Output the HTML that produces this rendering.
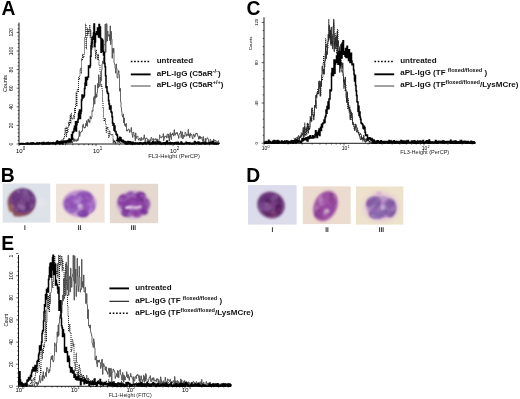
<!DOCTYPE html>
<html><head><meta charset="utf-8"><style>
html,body{margin:0;padding:0;background:#fff;}
svg{display:block;filter:blur(0.3px);}
text{font-family:"Liberation Sans",sans-serif;}
.lt{font-weight:bold;font-size:19.3px;}
.lg{font-weight:bold;font-size:8px;}
.tk{font-size:5.5px;}
.sp{font-size:5.6px;}
</style></head><body>
<svg width="520" height="399" viewBox="0 0 520 399">
<rect width="520" height="399" fill="#fff"/>
<text class="lt" x="1.6" y="15.0">A</text>
<text class="lt" x="246.5" y="15.0">C</text>
<text class="lt" x="0.8" y="181.7">B</text>
<text class="lt" x="246.3" y="181.5">D</text>
<text class="lt" x="1.2" y="249.5">E</text>
<line x1="19" y1="22.7" x2="19" y2="144" stroke="#000" stroke-width="0.9"/>
<line x1="19" y1="144" x2="219" y2="144" stroke="#000" stroke-width="0.9"/>
<line x1="16.6" y1="144.0" x2="19" y2="144.0" stroke="#000" stroke-width="0.6"/>
<line x1="17.7" y1="140.3" x2="19" y2="140.3" stroke="#000" stroke-width="0.6"/>
<line x1="17.7" y1="136.6" x2="19" y2="136.6" stroke="#000" stroke-width="0.6"/>
<line x1="17.7" y1="132.8" x2="19" y2="132.8" stroke="#000" stroke-width="0.6"/>
<line x1="17.7" y1="129.1" x2="19" y2="129.1" stroke="#000" stroke-width="0.6"/>
<line x1="16.6" y1="125.4" x2="19" y2="125.4" stroke="#000" stroke-width="0.6"/>
<line x1="17.7" y1="121.7" x2="19" y2="121.7" stroke="#000" stroke-width="0.6"/>
<line x1="17.7" y1="118.0" x2="19" y2="118.0" stroke="#000" stroke-width="0.6"/>
<line x1="17.7" y1="114.2" x2="19" y2="114.2" stroke="#000" stroke-width="0.6"/>
<line x1="17.7" y1="110.5" x2="19" y2="110.5" stroke="#000" stroke-width="0.6"/>
<line x1="16.6" y1="106.8" x2="19" y2="106.8" stroke="#000" stroke-width="0.6"/>
<line x1="17.7" y1="103.1" x2="19" y2="103.1" stroke="#000" stroke-width="0.6"/>
<line x1="17.7" y1="99.4" x2="19" y2="99.4" stroke="#000" stroke-width="0.6"/>
<line x1="17.7" y1="95.6" x2="19" y2="95.6" stroke="#000" stroke-width="0.6"/>
<line x1="17.7" y1="91.9" x2="19" y2="91.9" stroke="#000" stroke-width="0.6"/>
<line x1="16.6" y1="88.2" x2="19" y2="88.2" stroke="#000" stroke-width="0.6"/>
<line x1="17.7" y1="84.5" x2="19" y2="84.5" stroke="#000" stroke-width="0.6"/>
<line x1="17.7" y1="80.8" x2="19" y2="80.8" stroke="#000" stroke-width="0.6"/>
<line x1="17.7" y1="77.0" x2="19" y2="77.0" stroke="#000" stroke-width="0.6"/>
<line x1="17.7" y1="73.3" x2="19" y2="73.3" stroke="#000" stroke-width="0.6"/>
<line x1="16.6" y1="69.6" x2="19" y2="69.6" stroke="#000" stroke-width="0.6"/>
<line x1="17.7" y1="65.9" x2="19" y2="65.9" stroke="#000" stroke-width="0.6"/>
<line x1="17.7" y1="62.2" x2="19" y2="62.2" stroke="#000" stroke-width="0.6"/>
<line x1="17.7" y1="58.4" x2="19" y2="58.4" stroke="#000" stroke-width="0.6"/>
<line x1="17.7" y1="54.7" x2="19" y2="54.7" stroke="#000" stroke-width="0.6"/>
<line x1="16.6" y1="51.0" x2="19" y2="51.0" stroke="#000" stroke-width="0.6"/>
<line x1="17.7" y1="47.3" x2="19" y2="47.3" stroke="#000" stroke-width="0.6"/>
<line x1="17.7" y1="43.6" x2="19" y2="43.6" stroke="#000" stroke-width="0.6"/>
<line x1="17.7" y1="39.8" x2="19" y2="39.8" stroke="#000" stroke-width="0.6"/>
<line x1="17.7" y1="36.1" x2="19" y2="36.1" stroke="#000" stroke-width="0.6"/>
<line x1="16.6" y1="32.4" x2="19" y2="32.4" stroke="#000" stroke-width="0.6"/>
<line x1="17.7" y1="28.7" x2="19" y2="28.7" stroke="#000" stroke-width="0.6"/>
<line x1="17.7" y1="25.0" x2="19" y2="25.0" stroke="#000" stroke-width="0.6"/>
<line x1="19.0" y1="144" x2="19.0" y2="146.2" stroke="#000" stroke-width="0.6"/>
<line x1="42.2" y1="144" x2="42.2" y2="145.3" stroke="#000" stroke-width="0.6"/>
<line x1="55.7" y1="144" x2="55.7" y2="145.3" stroke="#000" stroke-width="0.6"/>
<line x1="65.4" y1="144" x2="65.4" y2="145.3" stroke="#000" stroke-width="0.6"/>
<line x1="72.8" y1="144" x2="72.8" y2="145.3" stroke="#000" stroke-width="0.6"/>
<line x1="78.9" y1="144" x2="78.9" y2="145.3" stroke="#000" stroke-width="0.6"/>
<line x1="84.1" y1="144" x2="84.1" y2="145.3" stroke="#000" stroke-width="0.6"/>
<line x1="88.5" y1="144" x2="88.5" y2="145.3" stroke="#000" stroke-width="0.6"/>
<line x1="92.5" y1="144" x2="92.5" y2="145.3" stroke="#000" stroke-width="0.6"/>
<line x1="96.0" y1="144" x2="96.0" y2="146.2" stroke="#000" stroke-width="0.6"/>
<line x1="119.2" y1="144" x2="119.2" y2="145.3" stroke="#000" stroke-width="0.6"/>
<line x1="132.7" y1="144" x2="132.7" y2="145.3" stroke="#000" stroke-width="0.6"/>
<line x1="142.4" y1="144" x2="142.4" y2="145.3" stroke="#000" stroke-width="0.6"/>
<line x1="149.8" y1="144" x2="149.8" y2="145.3" stroke="#000" stroke-width="0.6"/>
<line x1="155.9" y1="144" x2="155.9" y2="145.3" stroke="#000" stroke-width="0.6"/>
<line x1="161.1" y1="144" x2="161.1" y2="145.3" stroke="#000" stroke-width="0.6"/>
<line x1="165.5" y1="144" x2="165.5" y2="145.3" stroke="#000" stroke-width="0.6"/>
<line x1="169.5" y1="144" x2="169.5" y2="145.3" stroke="#000" stroke-width="0.6"/>
<line x1="173.0" y1="144" x2="173.0" y2="146.2" stroke="#000" stroke-width="0.6"/>
<line x1="196.2" y1="144" x2="196.2" y2="145.3" stroke="#000" stroke-width="0.6"/>
<line x1="209.7" y1="144" x2="209.7" y2="145.3" stroke="#000" stroke-width="0.6"/>
<path d="M19.0,144.0H19.5V143.4H20.0V144.0H20.5V144.0H21.0V144.0H21.5V143.6H22.0V143.6H22.5V144.0H23.0V144.0H23.5V144.0H24.0V144.0H24.5V144.0H25.0V144.0H25.5V143.8H26.0V144.0H26.5V144.0H27.0V144.0H27.5V143.2H28.0V143.7H28.5V144.0H29.0V143.1H29.5V144.0H30.0V144.0H30.5V143.9H31.0V144.0H31.5V144.0H32.0V142.5H32.5V144.0H33.0V142.6H33.5V144.0H34.0V143.9H34.5V144.0H35.0V143.8H35.5V143.5H36.0V142.6H36.5V143.0H37.0V144.0H37.5V142.5H38.0V143.9H38.5V143.9H39.0V142.1H39.5V144.0H40.0V143.8H40.5V143.4H41.0V143.4H41.5V142.8H42.0V142.0H42.5V143.1H43.0V142.9H43.5V144.0H44.0V144.0H44.5V144.0H45.0V142.5H45.5V143.8H46.0V143.4H46.5V142.6H47.0V143.5H47.5V143.4H48.0V142.0H48.5V143.1H49.0V144.0H49.5V144.0H50.0V143.7H50.5V144.0H51.0V144.0H51.5V144.0H52.0V143.9H52.5V143.6H53.0V144.0H53.5V142.1H54.0V143.0H54.5V143.3H55.0V143.3H55.5V142.1H56.0V142.3H56.5V141.4H57.0V142.9H57.5V141.3H58.0V141.7H58.5V142.6H59.0V140.8H59.5V142.7H60.0V142.5H60.5V141.6H61.0V140.8H61.5V140.1H62.0V140.5H62.5V141.2H63.0V138.1H63.5V138.8H64.0V137.9H64.5V133.6H65.0V127.8H65.5V132.1H66.0V136.9H66.5V127.1H67.0V128.7H67.5V132.8H68.0V126.7H68.5V122.1H69.0V125.9H69.5V120.7H70.0V115.1H70.5V123.5H71.0V113.3H71.5V117.4H72.0V118.9H72.5V119.3H73.0V116.9H73.5V115.4H74.0V118.6H74.5V107.9H75.0V113.3H75.5V104.4H76.0V92.5H76.5V106.3H77.0V89.8H77.5V89.1H78.0V92.2H78.5V77.5H79.0V79.6H79.5V76.5H80.0V69.2H80.5V68.2H81.0V73.4H81.5V58.7H82.0V60.4H82.5V54.1H83.0V57.3H83.5V57.9H84.0V54.0H84.5V37.7H85.0V37.1H85.5V24.0H86.0V49.0H86.5V37.8H87.0V28.0H87.5V35.4H88.0V29.7H88.5V33.2H89.0V30.5H89.5V25.0H90.0V37.6H90.5V29.8H91.0V44.8H91.5V49.6H92.0V38.9H92.5V47.8H93.0V37.0H93.5V34.8H94.0V25.9H94.5V47.4H95.0V51.6H95.5V58.8H96.0V49.8H96.5V54.1H97.0V55.3H97.5V59.6H98.0V54.1H98.5V60.3H99.0V65.3H99.5V65.2H100.0V71.9H100.5V83.0H101.0V86.5H101.5V84.9H102.0V90.3H102.5V101.8H103.0V108.5H103.5V117.1H104.0V121.2H104.5V118.8H105.0V118.3H105.5V123.2H106.0V132.5H106.5V127.5H107.0V128.6H107.5V127.1H108.0V133.5H108.5V137.7H109.0V136.7H109.5V130.8H110.0V133.9H110.5V134.5H111.0V135.0H111.5V135.3H112.0V134.3H112.5V134.7H113.0V143.1H113.5V139.6H114.0V143.0H114.5V140.5H115.0V141.4H115.5V144.0H116.0V141.3H116.5V139.6H117.0V141.4H117.5V143.0H118.0V141.8H118.5V140.8H119.0V142.7H119.5V140.3H120.0V142.7H120.5V143.2H121.0V143.0H121.5V141.8H122.0V141.8H122.5V142.8H123.0V142.6H123.5V141.6H124.0V143.5H124.5V143.2H125.0V141.5H125.5V141.8H126.0V142.3H126.5V143.6H127.0V143.7H127.5V141.9H128.0V143.5H128.5V141.8H129.0V143.9H129.5V143.6H130.0V143.8H130.5V144.0H131.0V144.0H131.5V144.0H132.0V143.8H132.5V143.9H133.0V144.0H133.5V142.3H134.0V144.0H134.5V144.0H135.0V142.3H135.5V142.9H136.0V143.6H136.5V144.0H137.0V143.3H137.5V143.7H138.0V143.4H138.5V144.0H139.0V144.0H139.5V143.9H140.0V143.0H140.5V143.1H141.0V143.3H141.5V144.0H142.0V144.0H142.5V142.8H143.0V143.9H143.5V143.8H144.0V144.0H144.5V143.7H145.0V143.5H145.5V143.7H146.0V142.7H146.5V143.8H147.0V144.0H147.5V144.0H148.0V142.9H148.5V144.0H149.0V142.1H149.5V143.5H150.0V144.0H150.5V143.7H151.0V142.6H151.5V143.3H152.0V144.0H152.5V144.0H153.0V143.2H153.5V144.0H154.0V143.5H154.5V143.2H155.0V144.0H155.5V142.0H156.0V142.8H156.5V144.0H157.0V143.6H157.5V144.0H158.0V143.0H158.5V144.0H159.0V143.4H159.5V143.4H160.0V143.0H160.5V142.7H161.0V144.0H161.5V143.0H162.0V143.5H162.5V144.0H163.0V143.7H163.5V144.0H164.0V144.0H164.5V143.9H165.0V143.5H165.5V144.0H166.0V143.5H166.5V143.1H167.0V143.2H167.5V143.5H168.0V143.4H168.5V143.5H169.0V143.7H169.5V143.8H170.0V141.5H170.5V143.2H171.0V144.0H171.5V143.5H172.0V143.4H172.5V143.4H173.0V143.4H173.5V144.0H174.0V143.6H174.5V142.9H175.0V143.8H175.5V143.3H176.0V143.7H176.5V143.6H177.0V143.5H177.5V143.4H178.0V143.2H178.5V143.9H179.0V143.0H179.5V144.0H180.0V144.0H180.5V142.6H181.0V144.0H181.5V142.1H182.0V144.0H182.5V142.5H183.0V143.7H183.5V144.0H184.0V142.9H184.5V144.0H185.0V143.5H185.5V144.0H186.0V143.8H186.5V144.0H187.0V144.0H187.5V143.6H188.0V144.0H188.5V143.3H189.0V143.5H189.5V142.1H190.0V143.0H190.5V144.0H191.0V144.0H191.5V143.0H192.0V143.3H192.5V143.7H193.0V142.6H193.5V143.1H194.0V143.0H194.5V142.7H195.0V143.4H195.5V141.6H196.0V144.0H196.5V143.0H197.0V144.0H197.5V143.8H198.0V143.5H198.5V144.0H199.0V143.1H199.5V142.0H200.0V143.4H200.5V142.2H201.0V143.5H201.5V144.0H202.0V144.0H202.5V143.5H203.0V143.4H203.5V144.0H204.0V143.7H204.5V144.0H205.0V142.8H205.5V143.2H206.0V144.0H206.5V144.0H207.0V143.0H207.5V143.7H208.0V143.6H208.5V143.2H209.0V142.0H209.5V144.0H210.0V144.0H210.5V143.9H211.0V142.8H211.5V144.0H212.0V141.9H212.5V143.7H213.0V143.5H213.5V143.4H214.0V144.0H214.5V143.8H215.0V143.8H215.5V142.9H216.0V143.7H216.5V144.0H217.0V144.0H217.5V143.5H218.0V144.0H218.5V144.0H219.0V144.0" fill="none" stroke="#000" stroke-width="0.9" stroke-dasharray="1,1"/>
<path d="M19.0,144.0H19.5V144.0H20.0V144.0H20.5V144.0H21.0V143.3H21.5V144.0H22.0V144.0H22.5V143.9H23.0V143.6H23.5V143.9H24.0V143.9H24.5V144.0H25.0V144.0H25.5V144.0H26.0V143.8H26.5V143.5H27.0V144.0H27.5V142.4H28.0V143.5H28.5V142.5H29.0V143.5H29.5V144.0H30.0V143.7H30.5V143.7H31.0V142.9H31.5V143.9H32.0V143.6H32.5V144.0H33.0V143.9H33.5V144.0H34.0V143.9H34.5V144.0H35.0V144.0H35.5V143.2H36.0V143.1H36.5V142.3H37.0V142.3H37.5V144.0H38.0V144.0H38.5V144.0H39.0V143.4H39.5V144.0H40.0V143.2H40.5V143.4H41.0V144.0H41.5V142.4H42.0V144.0H42.5V143.4H43.0V144.0H43.5V144.0H44.0V142.8H44.5V143.8H45.0V144.0H45.5V144.0H46.0V142.2H46.5V143.2H47.0V143.5H47.5V144.0H48.0V144.0H48.5V144.0H49.0V142.8H49.5V142.5H50.0V142.2H50.5V143.7H51.0V144.0H51.5V143.5H52.0V144.0H52.5V143.3H53.0V142.4H53.5V143.8H54.0V142.9H54.5V143.1H55.0V144.0H55.5V142.2H56.0V144.0H56.5V144.0H57.0V143.6H57.5V142.3H58.0V143.9H58.5V141.1H59.0V142.1H59.5V143.2H60.0V144.0H60.5V142.8H61.0V144.0H61.5V142.0H62.0V144.0H62.5V141.5H63.0V140.6H63.5V143.5H64.0V142.1H64.5V141.3H65.0V143.6H65.5V144.0H66.0V142.6H66.5V144.0H67.0V144.0H67.5V144.0H68.0V141.9H68.5V142.4H69.0V142.1H69.5V140.5H70.0V143.2H70.5V142.1H71.0V142.5H71.5V141.3H72.0V143.2H72.5V141.5H73.0V141.3H73.5V138.1H74.0V141.3H74.5V139.2H75.0V140.8H75.5V139.9H76.0V141.4H76.5V140.2H77.0V138.8H77.5V140.9H78.0V139.7H78.5V136.8H79.0V130.8H79.5V136.4H80.0V133.3H80.5V132.1H81.0V132.1H81.5V131.0H82.0V131.1H82.5V125.9H83.0V124.2H83.5V127.1H84.0V128.1H84.5V127.1H85.0V127.7H85.5V123.6H86.0V125.4H86.5V120.7H87.0V126.3H87.5V122.5H88.0V119.1H88.5V121.7H89.0V120.6H89.5V122.6H90.0V116.3H90.5V118.4H91.0V118.9H91.5V117.3H92.0V110.4H92.5V111.4H93.0V106.8H93.5V97.6H94.0V96.4H94.5V104.1H95.0V85.2H95.5V98.1H96.0V94.2H96.5V97.1H97.0V92.3H97.5V83.5H98.0V88.0H98.5V74.8H99.0V84.6H99.5V86.5H100.0V77.1H100.5V79.3H101.0V80.8H101.5V70.3H102.0V63.8H102.5V61.1H103.0V63.6H103.5V58.0H104.0V44.6H104.5V44.5H105.0V24.0H105.5V52.4H106.0V41.9H106.5V23.7H107.0V41.0H107.5V31.0H108.0V35.3H108.5V36.2H109.0V34.4H109.5V40.5H110.0V26.0H110.5V44.5H111.0V31.5H111.5V39.1H112.0V58.2H112.5V48.5H113.0V52.7H113.5V48.3H114.0V63.2H114.5V64.3H115.0V68.3H115.5V73.1H116.0V64.0H116.5V68.6H117.0V77.7H117.5V78.1H118.0V72.9H118.5V70.6H119.0V75.1H119.5V91.1H120.0V88.4H120.5V101.8H121.0V107.6H121.5V111.5H122.0V115.7H122.5V117.1H123.0V114.1H123.5V122.9H124.0V117.9H124.5V125.3H125.0V124.2H125.5V126.5H126.0V123.4H126.5V131.0H127.0V130.2H127.5V131.0H128.0V129.1H128.5V129.2H129.0V129.9H129.5V132.5H130.0V130.9H130.5V130.8H131.0V127.6H131.5V132.3H132.0V135.1H132.5V137.4H133.0V132.0H133.5V132.6H134.0V135.4H134.5V136.2H135.0V140.7H135.5V133.0H136.0V138.3H136.5V136.6H137.0V136.4H137.5V136.2H138.0V139.1H138.5V140.1H139.0V138.9H139.5V138.4H140.0V140.7H140.5V139.2H141.0V137.4H141.5V140.4H142.0V139.2H142.5V138.7H143.0V139.4H143.5V137.6H144.0V134.9H144.5V138.4H145.0V141.2H145.5V138.3H146.0V137.9H146.5V138.3H147.0V139.0H147.5V140.7H148.0V142.0H148.5V139.7H149.0V140.5H149.5V143.6H150.0V139.5H150.5V141.0H151.0V137.4H151.5V138.3H152.0V139.3H152.5V139.2H153.0V141.6H153.5V138.6H154.0V139.7H154.5V140.0H155.0V139.9H155.5V138.7H156.0V139.2H156.5V141.4H157.0V139.0H157.5V141.4H158.0V141.5H158.5V142.5H159.0V138.9H159.5V134.9H160.0V137.1H160.5V137.5H161.0V137.9H161.5V136.8H162.0V136.6H162.5V137.0H163.0V133.7H163.5V140.6H164.0V138.2H164.5V136.3H165.0V136.1H165.5V136.9H166.0V136.4H166.5V138.0H167.0V134.2H167.5V134.2H168.0V137.6H168.5V134.3H169.0V141.0H169.5V136.3H170.0V132.7H170.5V137.1H171.0V139.5H171.5V134.2H172.0V134.9H172.5V133.0H173.0V134.4H173.5V136.0H174.0V129.8H174.5V134.6H175.0V135.1H175.5V133.2H176.0V132.6H176.5V133.7H177.0V132.7H177.5V134.9H178.0V135.9H178.5V138.3H179.0V134.2H179.5V133.8H180.0V133.1H180.5V131.0H181.0V137.6H181.5V133.5H182.0V131.9H182.5V138.9H183.0V138.1H183.5V135.0H184.0V135.2H184.5V136.6H185.0V132.1H185.5V132.9H186.0V134.5H186.5V136.1H187.0V134.4H187.5V135.1H188.0V129.5H188.5V135.7H189.0V134.6H189.5V137.6H190.0V133.1H190.5V135.6H191.0V134.7H191.5V134.5H192.0V137.5H192.5V138.8H193.0V135.6H193.5V134.1H194.0V135.4H194.5V137.1H195.0V135.6H195.5V133.7H196.0V134.1H196.5V133.2H197.0V133.7H197.5V135.5H198.0V137.1H198.5V139.2H199.0V136.0H199.5V138.6H200.0V136.4H200.5V138.4H201.0V137.8H201.5V137.3H202.0V139.7H202.5V141.5H203.0V136.6H203.5V142.9H204.0V141.6H204.5V142.5H205.0V138.4H205.5V141.2H206.0V139.3H206.5V139.2H207.0V137.8H207.5V138.4H208.0V139.3H208.5V142.6H209.0V143.2H209.5V143.2H210.0V139.4H210.5V140.0H211.0V141.6H211.5V142.9H212.0V142.1H212.5V141.1H213.0V142.4H213.5V139.2H214.0V140.3H214.5V141.1H215.0V141.2H215.5V140.4H216.0V141.5H216.5V144.0H217.0V143.7H217.5V141.6H218.0V142.1H218.5V140.7H219.0V140.7" fill="none" stroke="#444" stroke-width="0.8"/>
<path d="M19.0,144.0H19.5V143.7H20.0V144.0H20.5V144.0H21.0V143.4H21.5V143.8H22.0V144.0H22.5V143.5H23.0V144.0H23.5V144.0H24.0V143.8H24.5V144.0H25.0V143.8H25.5V143.7H26.0V143.6H26.5V143.2H27.0V144.0H27.5V144.0H28.0V144.0H28.5V144.0H29.0V144.0H29.5V143.7H30.0V143.8H30.5V143.1H31.0V143.9H31.5V144.0H32.0V144.0H32.5V143.3H33.0V142.9H33.5V143.6H34.0V143.4H34.5V144.0H35.0V144.0H35.5V144.0H36.0V144.0H36.5V143.6H37.0V144.0H37.5V144.0H38.0V144.0H38.5V143.1H39.0V143.6H39.5V143.5H40.0V143.4H40.5V143.4H41.0V143.1H41.5V143.4H42.0V143.2H42.5V144.0H43.0V144.0H43.5V142.6H44.0V143.5H44.5V143.3H45.0V144.0H45.5V144.0H46.0V144.0H46.5V142.9H47.0V144.0H47.5V143.7H48.0V142.5H48.5V144.0H49.0V144.0H49.5V143.0H50.0V143.2H50.5V143.3H51.0V143.6H51.5V143.2H52.0V142.8H52.5V142.9H53.0V143.7H53.5V143.6H54.0V143.6H54.5V142.9H55.0V144.0H55.5V143.0H56.0V143.6H56.5V142.6H57.0V141.0H57.5V142.8H58.0V143.3H58.5V143.1H59.0V142.1H59.5V144.0H60.0V142.2H60.5V141.5H61.0V143.2H61.5V142.2H62.0V141.6H62.5V144.0H63.0V142.3H63.5V141.2H64.0V141.5H64.5V142.1H65.0V141.1H65.5V142.4H66.0V141.0H66.5V142.1H67.0V141.3H67.5V140.6H68.0V140.4H68.5V142.1H69.0V139.1H69.5V139.5H70.0V140.2H70.5V141.5H71.0V140.0H71.5V134.8H72.0V139.4H72.5V132.2H73.0V132.6H73.5V131.3H74.0V128.4H74.5V126.2H75.0V129.8H75.5V121.7H76.0V130.9H76.5V124.8H77.0V121.5H77.5V122.3H78.0V119.0H78.5V114.0H79.0V111.9H79.5V109.9H80.0V118.5H80.5V113.4H81.0V111.0H81.5V100.0H82.0V95.1H82.5V98.0H83.0V95.9H83.5V96.9H84.0V95.5H84.5V88.6H85.0V83.3H85.5V77.4H86.0V85.3H86.5V79.8H87.0V79.2H87.5V77.0H88.0V77.0H88.5V66.0H89.0V66.0H89.5V67.6H90.0V65.4H90.5V56.3H91.0V45.7H91.5V43.1H92.0V37.4H92.5V39.2H93.0V36.5H93.5V32.9H94.0V24.0H94.5V46.6H95.0V42.1H95.5V33.5H96.0V33.8H96.5V31.7H97.0V34.5H97.5V28.0H98.0V32.4H98.5V37.0H99.0V24.4H99.5V32.7H100.0V27.0H100.5V38.3H101.0V52.2H101.5V39.1H102.0V39.5H102.5V40.6H103.0V51.3H103.5V55.1H104.0V52.4H104.5V63.4H105.0V66.7H105.5V75.8H106.0V87.4H106.5V86.7H107.0V91.6H107.5V93.2H108.0V93.6H108.5V100.6H109.0V103.9H109.5V109.0H110.0V108.9H110.5V105.9H111.0V111.8H111.5V112.5H112.0V116.8H112.5V123.0H113.0V125.3H113.5V123.7H114.0V130.3H114.5V126.1H115.0V131.6H115.5V131.5H116.0V134.0H116.5V134.4H117.0V135.3H117.5V140.1H118.0V140.4H118.5V138.8H119.0V140.6H119.5V137.3H120.0V140.6H120.5V137.7H121.0V139.9H121.5V141.2H122.0V141.0H122.5V140.3H123.0V140.8H123.5V141.4H124.0V142.4H124.5V141.6H125.0V142.5H125.5V144.0H126.0V143.2H126.5V142.0H127.0V142.8H127.5V144.0H128.0V141.6H128.5V143.5H129.0V141.9H129.5V141.8H130.0V142.1H130.5V144.0H131.0V143.4H131.5V144.0H132.0V142.2H132.5V142.2H133.0V144.0H133.5V143.4H134.0V143.0H134.5V142.9H135.0V144.0H135.5V143.0H136.0V143.1H136.5V143.7H137.0V143.1H137.5V143.7H138.0V144.0H138.5V143.1H139.0V143.0H139.5V144.0H140.0V142.8H140.5V142.7H141.0V143.3H141.5V143.3H142.0V143.8H142.5V144.0H143.0V144.0H143.5V143.3H144.0V142.8H144.5V143.6H145.0V142.3H145.5V143.1H146.0V143.9H146.5V143.0H147.0V143.0H147.5V142.1H148.0V142.8H148.5V143.4H149.0V142.2H149.5V144.0H150.0V143.4H150.5V143.2H151.0V143.9H151.5V143.0H152.0V143.9H152.5V141.8H153.0V143.0H153.5V143.6H154.0V142.7H154.5V143.7H155.0V142.1H155.5V143.3H156.0V143.3H156.5V143.0H157.0V143.7H157.5V141.4H158.0V143.8H158.5V143.3H159.0V142.1H159.5V144.0H160.0V142.3H160.5V143.7H161.0V143.4H161.5V144.0H162.0V143.3H162.5V143.0H163.0V144.0H163.5V143.2H164.0V142.7H164.5V143.4H165.0V144.0H165.5V143.6H166.0V142.8H166.5V141.6H167.0V141.0H167.5V144.0H168.0V143.2H168.5V143.0H169.0V143.3H169.5V142.7H170.0V143.3H170.5V144.0H171.0V143.9H171.5V142.8H172.0V142.9H172.5V143.4H173.0V143.0H173.5V143.8H174.0V144.0H174.5V142.8H175.0V143.2H175.5V143.5H176.0V142.6H176.5V143.9H177.0V144.0H177.5V142.2H178.0V142.7H178.5V143.5H179.0V144.0H179.5V143.5H180.0V144.0H180.5V144.0H181.0V142.0H181.5V143.0H182.0V143.8H182.5V143.9H183.0V144.0H183.5V144.0H184.0V144.0H184.5V143.5H185.0V143.5H185.5V143.4H186.0V142.3H186.5V143.7H187.0V143.3H187.5V142.8H188.0V143.4H188.5V143.2H189.0V143.9H189.5V143.1H190.0V143.4H190.5V143.2H191.0V143.6H191.5V143.9H192.0V143.9H192.5V143.4H193.0V143.2H193.5V143.9H194.0V144.0H194.5V141.5H195.0V143.3H195.5V142.6H196.0V142.9H196.5V142.8H197.0V143.3H197.5V143.2H198.0V142.1H198.5V144.0H199.0V142.8H199.5V143.7H200.0V143.4H200.5V143.6H201.0V143.9H201.5V142.9H202.0V143.6H202.5V142.7H203.0V142.9H203.5V143.6H204.0V143.1H204.5V144.0H205.0V144.0H205.5V142.2H206.0V143.3H206.5V143.6H207.0V143.4H207.5V143.7H208.0V142.9H208.5V143.7H209.0V143.8H209.5V142.9H210.0V143.6H210.5V142.2H211.0V142.2H211.5V143.4H212.0V143.3H212.5V143.5H213.0V141.6H213.5V144.0H214.0V144.0H214.5V143.1H215.0V143.1H215.5V144.0H216.0V144.0H216.5V143.9H217.0V143.4H217.5V143.8H218.0V143.5H218.5V143.2H219.0V144.0" fill="none" stroke="#000" stroke-width="1.5"/>
<line x1="264" y1="17.3" x2="264" y2="143.3" stroke="#000" stroke-width="0.9"/>
<line x1="264" y1="143.3" x2="475.5" y2="143.3" stroke="#000" stroke-width="0.9"/>
<line x1="261.6" y1="143.3" x2="264" y2="143.3" stroke="#000" stroke-width="0.6"/>
<line x1="262.7" y1="135.2" x2="264" y2="135.2" stroke="#000" stroke-width="0.6"/>
<line x1="262.7" y1="127.2" x2="264" y2="127.2" stroke="#000" stroke-width="0.6"/>
<line x1="262.7" y1="119.1" x2="264" y2="119.1" stroke="#000" stroke-width="0.6"/>
<line x1="262.7" y1="111.1" x2="264" y2="111.1" stroke="#000" stroke-width="0.6"/>
<line x1="261.6" y1="103.0" x2="264" y2="103.0" stroke="#000" stroke-width="0.6"/>
<line x1="262.7" y1="94.9" x2="264" y2="94.9" stroke="#000" stroke-width="0.6"/>
<line x1="262.7" y1="86.9" x2="264" y2="86.9" stroke="#000" stroke-width="0.6"/>
<line x1="262.7" y1="78.8" x2="264" y2="78.8" stroke="#000" stroke-width="0.6"/>
<line x1="262.7" y1="70.8" x2="264" y2="70.8" stroke="#000" stroke-width="0.6"/>
<line x1="261.6" y1="62.7" x2="264" y2="62.7" stroke="#000" stroke-width="0.6"/>
<line x1="262.7" y1="54.6" x2="264" y2="54.6" stroke="#000" stroke-width="0.6"/>
<line x1="262.7" y1="46.6" x2="264" y2="46.6" stroke="#000" stroke-width="0.6"/>
<line x1="262.7" y1="38.5" x2="264" y2="38.5" stroke="#000" stroke-width="0.6"/>
<line x1="262.7" y1="30.5" x2="264" y2="30.5" stroke="#000" stroke-width="0.6"/>
<line x1="261.6" y1="22.4" x2="264" y2="22.4" stroke="#000" stroke-width="0.6"/>
<line x1="264.0" y1="143.3" x2="264.0" y2="145.5" stroke="#000" stroke-width="0.6"/>
<line x1="288.1" y1="143.3" x2="288.1" y2="144.60000000000002" stroke="#000" stroke-width="0.6"/>
<line x1="302.2" y1="143.3" x2="302.2" y2="144.60000000000002" stroke="#000" stroke-width="0.6"/>
<line x1="312.2" y1="143.3" x2="312.2" y2="144.60000000000002" stroke="#000" stroke-width="0.6"/>
<line x1="319.9" y1="143.3" x2="319.9" y2="144.60000000000002" stroke="#000" stroke-width="0.6"/>
<line x1="326.3" y1="143.3" x2="326.3" y2="144.60000000000002" stroke="#000" stroke-width="0.6"/>
<line x1="331.6" y1="143.3" x2="331.6" y2="144.60000000000002" stroke="#000" stroke-width="0.6"/>
<line x1="336.2" y1="143.3" x2="336.2" y2="144.60000000000002" stroke="#000" stroke-width="0.6"/>
<line x1="340.3" y1="143.3" x2="340.3" y2="144.60000000000002" stroke="#000" stroke-width="0.6"/>
<line x1="344.0" y1="143.3" x2="344.0" y2="145.5" stroke="#000" stroke-width="0.6"/>
<line x1="368.1" y1="143.3" x2="368.1" y2="144.60000000000002" stroke="#000" stroke-width="0.6"/>
<line x1="382.2" y1="143.3" x2="382.2" y2="144.60000000000002" stroke="#000" stroke-width="0.6"/>
<line x1="392.2" y1="143.3" x2="392.2" y2="144.60000000000002" stroke="#000" stroke-width="0.6"/>
<line x1="399.9" y1="143.3" x2="399.9" y2="144.60000000000002" stroke="#000" stroke-width="0.6"/>
<line x1="406.3" y1="143.3" x2="406.3" y2="144.60000000000002" stroke="#000" stroke-width="0.6"/>
<line x1="411.6" y1="143.3" x2="411.6" y2="144.60000000000002" stroke="#000" stroke-width="0.6"/>
<line x1="416.2" y1="143.3" x2="416.2" y2="144.60000000000002" stroke="#000" stroke-width="0.6"/>
<line x1="420.3" y1="143.3" x2="420.3" y2="144.60000000000002" stroke="#000" stroke-width="0.6"/>
<line x1="424.0" y1="143.3" x2="424.0" y2="145.5" stroke="#000" stroke-width="0.6"/>
<line x1="448.1" y1="143.3" x2="448.1" y2="144.60000000000002" stroke="#000" stroke-width="0.6"/>
<line x1="462.2" y1="143.3" x2="462.2" y2="144.60000000000002" stroke="#000" stroke-width="0.6"/>
<line x1="472.2" y1="143.3" x2="472.2" y2="144.60000000000002" stroke="#000" stroke-width="0.6"/>
<path d="M264.0,143.3H264.5V143.1H265.0V143.3H265.5V143.3H266.0V143.3H266.5V143.3H267.0V142.3H267.5V142.6H268.0V141.6H268.5V143.3H269.0V143.1H269.5V143.1H270.0V143.0H270.5V142.7H271.0V143.3H271.5V142.6H272.0V143.3H272.5V143.1H273.0V140.7H273.5V143.1H274.0V143.3H274.5V142.6H275.0V143.0H275.5V143.3H276.0V141.6H276.5V143.3H277.0V142.2H277.5V143.3H278.0V142.0H278.5V142.5H279.0V142.3H279.5V142.5H280.0V142.5H280.5V142.5H281.0V142.7H281.5V143.3H282.0V142.4H282.5V141.6H283.0V142.2H283.5V142.2H284.0V141.3H284.5V143.1H285.0V142.6H285.5V141.8H286.0V140.4H286.5V140.9H287.0V142.4H287.5V143.3H288.0V141.2H288.5V141.5H289.0V143.0H289.5V141.3H290.0V143.3H290.5V143.0H291.0V140.1H291.5V143.0H292.0V141.9H292.5V143.3H293.0V140.4H293.5V142.7H294.0V138.3H294.5V140.6H295.0V141.4H295.5V138.2H296.0V139.3H296.5V137.7H297.0V142.4H297.5V140.2H298.0V137.5H298.5V138.6H299.0V138.2H299.5V136.9H300.0V137.6H300.5V136.6H301.0V132.6H301.5V135.6H302.0V135.7H302.5V133.8H303.0V130.4H303.5V132.5H304.0V136.2H304.5V122.8H305.0V131.3H305.5V135.8H306.0V127.9H306.5V134.7H307.0V123.6H307.5V130.8H308.0V124.3H308.5V129.0H309.0V129.0H309.5V126.8H310.0V116.3H310.5V120.8H311.0V118.7H311.5V121.8H312.0V107.5H312.5V111.8H313.0V115.0H313.5V116.7H314.0V110.7H314.5V107.4H315.0V104.6H315.5V100.1H316.0V108.6H316.5V94.2H317.0V94.4H317.5V89.5H318.0V89.1H318.5V94.0H319.0V85.4H319.5V83.0H320.0V88.7H320.5V96.0H321.0V86.2H321.5V77.8H322.0V80.4H322.5V77.3H323.0V63.5H323.5V55.9H324.0V65.2H324.5V67.0H325.0V52.5H325.5V38.6H326.0V47.1H326.5V44.5H327.0V50.2H327.5V48.5H328.0V41.1H328.5V19.3H329.0V31.2H329.5V37.8H330.0V38.8H330.5V31.6H331.0V45.7H331.5V45.0H332.0V35.6H332.5V39.9H333.0V33.7H333.5V23.3H334.0V45.4H334.5V33.9H335.0V33.4H335.5V43.3H336.0V43.4H336.5V53.6H337.0V39.1H337.5V29.3H338.0V57.7H338.5V51.6H339.0V47.8H339.5V59.3H340.0V68.2H340.5V53.6H341.0V64.1H341.5V71.8H342.0V69.8H342.5V72.7H343.0V74.0H343.5V88.3H344.0V82.2H344.5V87.4H345.0V91.1H345.5V84.1H346.0V90.7H346.5V101.3H347.0V93.5H347.5V109.0H348.0V98.7H348.5V106.8H349.0V112.5H349.5V105.8H350.0V117.6H350.5V110.3H351.0V116.7H351.5V119.5H352.0V113.2H352.5V124.4H353.0V122.3H353.5V123.1H354.0V128.8H354.5V126.7H355.0V126.5H355.5V128.1H356.0V130.4H356.5V132.4H357.0V127.8H357.5V129.4H358.0V132.7H358.5V132.0H359.0V136.0H359.5V133.6H360.0V134.8H360.5V133.3H361.0V134.9H361.5V139.2H362.0V137.7H362.5V141.3H363.0V140.0H363.5V135.3H364.0V138.6H364.5V140.1H365.0V139.8H365.5V139.2H366.0V139.9H366.5V141.1H367.0V139.6H367.5V140.7H368.0V140.3H368.5V141.3H369.0V143.3H369.5V141.6H370.0V141.5H370.5V141.6H371.0V142.5H371.5V142.2H372.0V140.1H372.5V143.3H373.0V139.4H373.5V141.0H374.0V142.7H374.5V141.0H375.0V142.3H375.5V142.3H376.0V141.7H376.5V141.2H377.0V142.1H377.5V141.7H378.0V140.9H378.5V143.3H379.0V143.1H379.5V143.2H380.0V140.7H380.5V142.7H381.0V142.6H381.5V143.3H382.0V140.9H382.5V143.3H383.0V142.4H383.5V143.3H384.0V143.1H384.5V141.6H385.0V143.3H385.5V143.3H386.0V143.0H386.5V143.3H387.0V143.3H387.5V142.7H388.0V143.0H388.5V143.3H389.0V143.3H389.5V143.3H390.0V141.9H390.5V142.3H391.0V142.5H391.5V140.4H392.0V141.3H392.5V142.8H393.0V142.4H393.5V142.9H394.0V140.4H394.5V141.9H395.0V142.0H395.5V141.6H396.0V141.6H396.5V142.9H397.0V143.1H397.5V142.0H398.0V142.9H398.5V141.1H399.0V142.6H399.5V142.3H400.0V143.3H400.5V141.3H401.0V140.3H401.5V142.7H402.0V143.3H402.5V142.1H403.0V143.3H403.5V142.9H404.0V140.8H404.5V142.8H405.0V143.3H405.5V143.3H406.0V143.1H406.5V142.7H407.0V143.3H407.5V142.4H408.0V142.4H408.5V143.3H409.0V142.7H409.5V143.3H410.0V142.3H410.5V143.3H411.0V143.1H411.5V143.3H412.0V142.6H412.5V143.2H413.0V140.9H413.5V143.3H414.0V142.7H414.5V141.6H415.0V143.0H415.5V142.7H416.0V143.3H416.5V143.0H417.0V142.4H417.5V141.8H418.0V142.2H418.5V142.4H419.0V142.5H419.5V143.3H420.0V142.3H420.5V143.3H421.0V143.2H421.5V141.6H422.0V143.3H422.5V142.2H423.0V142.3H423.5V142.5H424.0V143.0H424.5V143.3H425.0V142.3H425.5V141.3H426.0V142.9H426.5V143.3H427.0V143.3H427.5V141.5H428.0V143.0H428.5V143.3H429.0V141.8H429.5V143.2H430.0V143.0H430.5V141.8H431.0V142.7H431.5V141.8H432.0V143.3H432.5V142.1H433.0V142.3H433.5V143.3H434.0V142.0H434.5V141.3H435.0V141.6H435.5V142.5H436.0V141.4H436.5V143.0H437.0V143.3H437.5V143.2H438.0V142.8H438.5V143.3H439.0V141.7H439.5V141.5H440.0V142.4H440.5V141.2H441.0V143.3H441.5V142.2H442.0V143.3H442.5V142.7H443.0V141.9H443.5V143.2H444.0V141.7H444.5V143.3H445.0V141.4H445.5V143.0H446.0V142.4H446.5V143.3H447.0V142.9H447.5V143.3H448.0V142.4H448.5V141.8H449.0V142.0H449.5V142.4H450.0V142.6H450.5V143.3H451.0V143.3H451.5V143.3H452.0V142.5H452.5V142.1H453.0V143.3H453.5V143.1H454.0V142.0H454.5V141.4H455.0V142.3H455.5V143.3H456.0V142.0H456.5V143.2H457.0V143.3H457.5V142.7H458.0V142.5H458.5V143.3H459.0V143.2H459.5V140.1H460.0V141.7H460.5V142.7H461.0V143.0H461.5V143.3H462.0V143.1H462.5V142.1H463.0V143.3H463.5V143.3H464.0V141.9H464.5V141.5H465.0V141.8H465.5V143.3H466.0V142.9H466.5V143.2H467.0V141.6H467.5V143.1H468.0V142.6H468.5V143.3H469.0V142.5H469.5V143.3H470.0V141.9H470.5V141.4H471.0V142.1H471.5V142.4H472.0V143.3H472.5V141.8H473.0V143.3H473.5V142.3H474.0V141.9H474.5V142.7H475.0V143.3" fill="none" stroke="#000" stroke-width="0.9" stroke-dasharray="1,1"/>
<path d="M264.0,143.3H264.5V142.5H265.0V143.1H265.5V142.9H266.0V143.3H266.5V143.3H267.0V143.3H267.5V142.6H268.0V142.7H268.5V143.1H269.0V142.7H269.5V143.3H270.0V142.0H270.5V143.3H271.0V143.3H271.5V143.0H272.0V143.3H272.5V142.5H273.0V142.5H273.5V143.3H274.0V143.3H274.5V143.3H275.0V143.3H275.5V142.9H276.0V143.0H276.5V142.1H277.0V142.4H277.5V142.3H278.0V142.7H278.5V142.2H279.0V142.2H279.5V143.2H280.0V142.5H280.5V142.8H281.0V143.2H281.5V143.3H282.0V141.7H282.5V143.3H283.0V143.3H283.5V141.9H284.0V143.3H284.5V143.3H285.0V143.3H285.5V143.3H286.0V143.1H286.5V141.9H287.0V142.0H287.5V142.0H288.0V143.3H288.5V142.7H289.0V142.5H289.5V141.7H290.0V141.4H290.5V141.3H291.0V140.7H291.5V141.2H292.0V140.7H292.5V141.6H293.0V143.0H293.5V141.7H294.0V140.0H294.5V141.1H295.0V141.4H295.5V138.7H296.0V141.5H296.5V140.7H297.0V139.0H297.5V137.5H298.0V136.0H298.5V135.7H299.0V139.9H299.5V136.8H300.0V137.6H300.5V135.7H301.0V135.0H301.5V136.6H302.0V133.6H302.5V134.1H303.0V127.5H303.5V138.0H304.0V134.5H304.5V126.8H305.0V128.9H305.5V130.1H306.0V132.1H306.5V128.5H307.0V127.2H307.5V123.1H308.0V133.2H308.5V126.9H309.0V129.6H309.5V128.7H310.0V120.3H310.5V117.4H311.0V121.0H311.5V108.6H312.0V115.1H312.5V114.5H313.0V115.2H313.5V119.9H314.0V115.5H314.5V105.5H315.0V107.1H315.5V95.6H316.0V95.0H316.5V97.7H317.0V92.2H317.5V94.1H318.0V92.4H318.5V81.5H319.0V80.9H319.5V87.8H320.0V96.2H320.5V81.4H321.0V86.4H321.5V74.9H322.0V66.2H322.5V70.6H323.0V73.7H323.5V69.1H324.0V74.2H324.5V61.6H325.0V60.6H325.5V45.7H326.0V58.6H326.5V51.1H327.0V54.5H327.5V42.8H328.0V34.2H328.5V40.4H329.0V25.3H329.5V37.7H330.0V30.0H330.5V44.4H331.0V27.2H331.5V43.7H332.0V40.7H332.5V48.9H333.0V26.3H333.5V19.3H334.0V51.6H334.5V41.6H335.0V38.3H335.5V48.8H336.0V35.9H336.5V45.7H337.0V31.3H337.5V57.8H338.0V40.9H338.5V45.9H339.0V47.4H339.5V72.3H340.0V67.6H340.5V65.8H341.0V62.1H341.5V64.6H342.0V68.4H342.5V62.9H343.0V76.1H343.5V82.0H344.0V79.7H344.5V84.7H345.0V77.1H345.5V90.9H346.0V98.0H346.5V102.5H347.0V91.9H347.5V103.4H348.0V103.2H348.5V108.3H349.0V110.5H349.5V108.6H350.0V119.9H350.5V116.8H351.0V112.0H351.5V115.5H352.0V117.9H352.5V123.0H353.0V125.1H353.5V124.1H354.0V127.3H354.5V130.6H355.0V127.6H355.5V124.0H356.0V125.6H356.5V127.5H357.0V130.9H357.5V131.3H358.0V132.3H358.5V133.8H359.0V134.3H359.5V136.2H360.0V139.1H360.5V139.7H361.0V136.3H361.5V139.3H362.0V138.0H362.5V139.2H363.0V138.9H363.5V136.7H364.0V141.1H364.5V140.7H365.0V142.3H365.5V140.5H366.0V138.6H366.5V141.5H367.0V140.5H367.5V139.3H368.0V139.7H368.5V140.8H369.0V140.9H369.5V142.2H370.0V142.2H370.5V142.0H371.0V142.0H371.5V143.3H372.0V142.3H372.5V143.2H373.0V143.3H373.5V140.7H374.0V139.6H374.5V140.6H375.0V140.9H375.5V142.7H376.0V141.8H376.5V143.3H377.0V143.3H377.5V141.2H378.0V140.5H378.5V142.0H379.0V143.3H379.5V142.5H380.0V142.5H380.5V142.7H381.0V143.3H381.5V143.3H382.0V143.1H382.5V143.0H383.0V142.6H383.5V142.9H384.0V142.8H384.5V142.6H385.0V142.9H385.5V143.3H386.0V141.7H386.5V141.4H387.0V142.1H387.5V142.0H388.0V142.8H388.5V143.3H389.0V143.1H389.5V142.6H390.0V142.9H390.5V141.5H391.0V143.2H391.5V142.3H392.0V142.7H392.5V141.0H393.0V142.7H393.5V141.4H394.0V140.8H394.5V142.5H395.0V142.5H395.5V141.5H396.0V141.3H396.5V141.0H397.0V142.2H397.5V142.9H398.0V143.3H398.5V143.3H399.0V141.8H399.5V143.3H400.0V143.1H400.5V143.3H401.0V143.3H401.5V140.9H402.0V141.7H402.5V143.3H403.0V142.9H403.5V142.7H404.0V143.0H404.5V140.9H405.0V142.1H405.5V141.4H406.0V143.3H406.5V140.1H407.0V142.9H407.5V142.4H408.0V141.6H408.5V141.7H409.0V142.4H409.5V142.7H410.0V142.1H410.5V143.3H411.0V142.2H411.5V142.9H412.0V141.7H412.5V141.3H413.0V142.6H413.5V140.7H414.0V140.3H414.5V141.0H415.0V143.3H415.5V141.0H416.0V142.7H416.5V142.7H417.0V140.2H417.5V143.3H418.0V142.6H418.5V142.2H419.0V143.0H419.5V141.5H420.0V143.3H420.5V143.3H421.0V142.1H421.5V142.2H422.0V141.5H422.5V141.9H423.0V143.1H423.5V142.7H424.0V143.3H424.5V142.4H425.0V143.1H425.5V142.3H426.0V143.0H426.5V142.6H427.0V143.3H427.5V141.2H428.0V143.3H428.5V141.7H429.0V142.2H429.5V142.8H430.0V141.1H430.5V143.3H431.0V142.8H431.5V143.1H432.0V143.3H432.5V142.6H433.0V142.0H433.5V143.3H434.0V142.4H434.5V142.0H435.0V143.2H435.5V142.1H436.0V142.7H436.5V142.1H437.0V142.3H437.5V142.1H438.0V142.7H438.5V141.9H439.0V141.7H439.5V142.1H440.0V142.8H440.5V142.6H441.0V142.7H441.5V142.3H442.0V143.2H442.5V142.4H443.0V140.4H443.5V143.3H444.0V143.0H444.5V142.5H445.0V143.3H445.5V141.8H446.0V141.8H446.5V143.3H447.0V143.3H447.5V142.6H448.0V142.8H448.5V143.3H449.0V142.1H449.5V143.3H450.0V143.3H450.5V142.3H451.0V141.7H451.5V143.3H452.0V143.3H452.5V142.0H453.0V143.0H453.5V141.8H454.0V142.9H454.5V143.0H455.0V140.8H455.5V143.3H456.0V141.4H456.5V143.3H457.0V143.3H457.5V143.0H458.0V142.5H458.5V141.6H459.0V142.7H459.5V142.8H460.0V141.8H460.5V143.3H461.0V142.9H461.5V143.3H462.0V142.0H462.5V142.2H463.0V143.3H463.5V142.6H464.0V142.5H464.5V142.4H465.0V143.0H465.5V142.8H466.0V143.3H466.5V143.3H467.0V143.3H467.5V143.1H468.0V140.9H468.5V142.3H469.0V143.3H469.5V143.3H470.0V141.7H470.5V142.2H471.0V142.4H471.5V143.0H472.0V142.2H472.5V143.0H473.0V143.3H473.5V143.2H474.0V143.3H474.5V142.3H475.0V142.7" fill="none" stroke="#222" stroke-width="0.8"/>
<path d="M264.0,143.3H264.5V142.5H265.0V142.1H265.5V143.3H266.0V141.4H266.5V142.1H267.0V143.0H267.5V142.2H268.0V143.3H268.5V140.3H269.0V141.8H269.5V142.6H270.0V141.6H270.5V142.4H271.0V142.7H271.5V142.8H272.0V143.3H272.5V141.6H273.0V141.3H273.5V143.3H274.0V140.6H274.5V141.6H275.0V143.2H275.5V140.9H276.0V143.3H276.5V142.9H277.0V142.2H277.5V140.4H278.0V143.2H278.5V142.4H279.0V141.3H279.5V142.4H280.0V142.7H280.5V142.3H281.0V142.6H281.5V141.1H282.0V142.1H282.5V142.8H283.0V141.8H283.5V142.0H284.0V143.2H284.5V141.0H285.0V142.4H285.5V141.5H286.0V141.4H286.5V141.4H287.0V141.1H287.5V143.3H288.0V141.4H288.5V142.0H289.0V142.4H289.5V142.7H290.0V142.3H290.5V142.3H291.0V141.3H291.5V141.0H292.0V142.6H292.5V140.9H293.0V143.3H293.5V140.7H294.0V141.9H294.5V141.0H295.0V141.6H295.5V142.9H296.0V142.2H296.5V140.3H297.0V142.2H297.5V142.1H298.0V141.7H298.5V140.4H299.0V142.0H299.5V141.4H300.0V141.2H300.5V142.4H301.0V142.3H301.5V141.1H302.0V138.5H302.5V140.7H303.0V140.2H303.5V139.3H304.0V138.7H304.5V139.7H305.0V139.2H305.5V139.6H306.0V137.8H306.5V139.0H307.0V140.7H307.5V141.1H308.0V137.1H308.5V137.9H309.0V138.5H309.5V136.8H310.0V135.8H310.5V138.1H311.0V137.5H311.5V137.8H312.0V137.9H312.5V135.8H313.0V138.1H313.5V136.5H314.0V136.9H314.5V137.4H315.0V134.7H315.5V130.8H316.0V135.8H316.5V133.0H317.0V137.4H317.5V134.4H318.0V132.3H318.5V131.0H319.0V129.0H319.5V135.4H320.0V129.8H320.5V127.3H321.0V130.6H321.5V124.4H322.0V127.0H322.5V123.8H323.0V123.1H323.5V123.1H324.0V120.0H324.5V122.4H325.0V117.4H325.5V116.0H326.0V110.1H326.5V113.3H327.0V106.5H327.5V109.0H328.0V101.9H328.5V108.6H329.0V99.1H329.5V99.0H330.0V89.9H330.5V90.9H331.0V90.0H331.5V73.3H332.0V68.5H332.5V71.2H333.0V75.4H333.5V69.3H334.0V60.0H334.5V73.2H335.0V64.2H335.5V60.2H336.0V62.5H336.5V56.0H337.0V59.0H337.5V53.4H338.0V64.2H338.5V57.8H339.0V51.6H339.5V62.3H340.0V65.3H340.5V55.0H341.0V45.0H341.5V58.1H342.0V43.3H342.5V53.0H343.0V40.7H343.5V54.3H344.0V51.4H344.5V53.5H345.0V56.2H345.5V48.4H346.0V57.4H346.5V52.5H347.0V46.3H347.5V54.7H348.0V57.4H348.5V60.4H349.0V49.8H349.5V60.2H350.0V62.4H350.5V58.3H351.0V53.3H351.5V60.9H352.0V64.8H352.5V64.1H353.0V64.1H353.5V70.1H354.0V74.4H354.5V81.1H355.0V75.5H355.5V85.4H356.0V90.8H356.5V95.6H357.0V101.7H357.5V102.0H358.0V111.6H358.5V106.3H359.0V115.5H359.5V111.9H360.0V117.2H360.5V119.5H361.0V122.9H361.5V123.5H362.0V123.7H362.5V124.7H363.0V128.1H363.5V128.8H364.0V126.3H364.5V127.8H365.0V132.3H365.5V135.2H366.0V135.5H366.5V135.1H367.0V135.3H367.5V139.4H368.0V138.1H368.5V138.0H369.0V138.5H369.5V137.8H370.0V139.3H370.5V139.2H371.0V140.3H371.5V138.6H372.0V139.4H372.5V140.5H373.0V143.3H373.5V143.3H374.0V140.5H374.5V142.7H375.0V142.7H375.5V142.2H376.0V143.3H376.5V142.6H377.0V140.8H377.5V140.8H378.0V141.6H378.5V141.9H379.0V142.6H379.5V141.6H380.0V143.3H380.5V143.3H381.0V140.7H381.5V142.5H382.0V142.5H382.5V142.0H383.0V142.4H383.5V141.4H384.0V143.2H384.5V141.8H385.0V142.2H385.5V141.6H386.0V141.7H386.5V142.0H387.0V142.4H387.5V141.6H388.0V143.3H388.5V142.7H389.0V140.6H389.5V141.8H390.0V142.7H390.5V141.1H391.0V141.8H391.5V142.0H392.0V143.0H392.5V142.6H393.0V141.8H393.5V141.4H394.0V140.8H394.5V143.3H395.0V143.3H395.5V141.7H396.0V142.3H396.5V142.8H397.0V141.6H397.5V142.7H398.0V142.6H398.5V143.3H399.0V141.9H399.5V142.2H400.0V141.5H400.5V141.7H401.0V140.5H401.5V142.5H402.0V142.9H402.5V142.7H403.0V140.9H403.5V143.3H404.0V143.3H404.5V141.4H405.0V141.8H405.5V141.2H406.0V143.3H406.5V142.0H407.0V141.7H407.5V141.6H408.0V140.5H408.5V142.6H409.0V142.2H409.5V142.3H410.0V142.3H410.5V142.3H411.0V142.5H411.5V141.0H412.0V142.3H412.5V141.4H413.0V142.2H413.5V141.2H414.0V143.3H414.5V140.9H415.0V141.7H415.5V143.3H416.0V141.7H416.5V142.7H417.0V142.6H417.5V142.3H418.0V143.2H418.5V141.2H419.0V141.6H419.5V141.5H420.0V141.0H420.5V141.4H421.0V143.3H421.5V142.4H422.0V141.3H422.5V142.2H423.0V140.4H423.5V143.3H424.0V143.0H424.5V143.1H425.0V142.2H425.5V141.8H426.0V141.4H426.5V140.7H427.0V142.0H427.5V142.5H428.0V143.3H428.5V140.9H429.0V139.9H429.5V143.3H430.0V142.5H430.5V142.7H431.0V142.3H431.5V142.4H432.0V142.1H432.5V142.4H433.0V142.1H433.5V142.9H434.0V143.1H434.5V142.8H435.0V142.5H435.5V140.6H436.0V141.6H436.5V141.5H437.0V143.3H437.5V142.5H438.0V142.7H438.5V141.3H439.0V142.6H439.5V141.8H440.0V142.3H440.5V141.6H441.0V142.5H441.5V141.8H442.0V142.1H442.5V140.9H443.0V143.3H443.5V140.9H444.0V143.1H444.5V141.8H445.0V141.7H445.5V142.2H446.0V141.8H446.5V141.4H447.0V142.4H447.5V141.8H448.0V141.6H448.5V141.6H449.0V141.8H449.5V142.6H450.0V142.4H450.5V140.3H451.0V143.3H451.5V143.0H452.0V142.8H452.5V141.6H453.0V143.0H453.5V141.2H454.0V141.9H454.5V143.3H455.0V143.3H455.5V141.1H456.0V143.1H456.5V142.9H457.0V143.3H457.5V142.0H458.0V141.8H458.5V142.8H459.0V143.3H459.5V143.3H460.0V142.4H460.5V141.7H461.0V140.6H461.5V142.4H462.0V142.9H462.5V143.1H463.0V141.5H463.5V142.1H464.0V141.5H464.5V141.3H465.0V142.6H465.5V143.2H466.0V142.7H466.5V141.4H467.0V142.8H467.5V142.9H468.0V141.9H468.5V141.8H469.0V143.1H469.5V143.3H470.0V143.2H470.5V143.3H471.0V141.2H471.5V142.0H472.0V143.3H472.5V141.7H473.0V142.1H473.5V141.8H474.0V142.5H474.5V143.2H475.0V143.3" fill="none" stroke="#000" stroke-width="1.5"/>
<line x1="18.5" y1="255" x2="18.5" y2="386.3" stroke="#000" stroke-width="0.9"/>
<line x1="18.5" y1="386.3" x2="231" y2="386.3" stroke="#000" stroke-width="0.9"/>
<line x1="16.1" y1="386.3" x2="18.5" y2="386.3" stroke="#000" stroke-width="0.6"/>
<line x1="17.2" y1="381.9" x2="18.5" y2="381.9" stroke="#000" stroke-width="0.6"/>
<line x1="17.2" y1="377.5" x2="18.5" y2="377.5" stroke="#000" stroke-width="0.6"/>
<line x1="17.2" y1="373.0" x2="18.5" y2="373.0" stroke="#000" stroke-width="0.6"/>
<line x1="17.2" y1="368.6" x2="18.5" y2="368.6" stroke="#000" stroke-width="0.6"/>
<line x1="16.1" y1="364.2" x2="18.5" y2="364.2" stroke="#000" stroke-width="0.6"/>
<line x1="17.2" y1="359.8" x2="18.5" y2="359.8" stroke="#000" stroke-width="0.6"/>
<line x1="17.2" y1="355.3" x2="18.5" y2="355.3" stroke="#000" stroke-width="0.6"/>
<line x1="17.2" y1="350.9" x2="18.5" y2="350.9" stroke="#000" stroke-width="0.6"/>
<line x1="17.2" y1="346.5" x2="18.5" y2="346.5" stroke="#000" stroke-width="0.6"/>
<line x1="16.1" y1="342.1" x2="18.5" y2="342.1" stroke="#000" stroke-width="0.6"/>
<line x1="17.2" y1="337.6" x2="18.5" y2="337.6" stroke="#000" stroke-width="0.6"/>
<line x1="17.2" y1="333.2" x2="18.5" y2="333.2" stroke="#000" stroke-width="0.6"/>
<line x1="17.2" y1="328.8" x2="18.5" y2="328.8" stroke="#000" stroke-width="0.6"/>
<line x1="17.2" y1="324.4" x2="18.5" y2="324.4" stroke="#000" stroke-width="0.6"/>
<line x1="16.1" y1="319.9" x2="18.5" y2="319.9" stroke="#000" stroke-width="0.6"/>
<line x1="17.2" y1="315.5" x2="18.5" y2="315.5" stroke="#000" stroke-width="0.6"/>
<line x1="17.2" y1="311.1" x2="18.5" y2="311.1" stroke="#000" stroke-width="0.6"/>
<line x1="17.2" y1="306.7" x2="18.5" y2="306.7" stroke="#000" stroke-width="0.6"/>
<line x1="17.2" y1="302.2" x2="18.5" y2="302.2" stroke="#000" stroke-width="0.6"/>
<line x1="16.1" y1="297.8" x2="18.5" y2="297.8" stroke="#000" stroke-width="0.6"/>
<line x1="17.2" y1="293.4" x2="18.5" y2="293.4" stroke="#000" stroke-width="0.6"/>
<line x1="17.2" y1="289.0" x2="18.5" y2="289.0" stroke="#000" stroke-width="0.6"/>
<line x1="17.2" y1="284.5" x2="18.5" y2="284.5" stroke="#000" stroke-width="0.6"/>
<line x1="17.2" y1="280.1" x2="18.5" y2="280.1" stroke="#000" stroke-width="0.6"/>
<line x1="16.1" y1="275.7" x2="18.5" y2="275.7" stroke="#000" stroke-width="0.6"/>
<line x1="17.2" y1="271.3" x2="18.5" y2="271.3" stroke="#000" stroke-width="0.6"/>
<line x1="17.2" y1="266.9" x2="18.5" y2="266.9" stroke="#000" stroke-width="0.6"/>
<line x1="17.2" y1="262.4" x2="18.5" y2="262.4" stroke="#000" stroke-width="0.6"/>
<line x1="17.2" y1="258.0" x2="18.5" y2="258.0" stroke="#000" stroke-width="0.6"/>
<line x1="16.1" y1="253.6" x2="18.5" y2="253.6" stroke="#000" stroke-width="0.6"/>
<line x1="18.5" y1="386.3" x2="18.5" y2="388.5" stroke="#000" stroke-width="0.6"/>
<line x1="35.2" y1="386.3" x2="35.2" y2="387.6" stroke="#000" stroke-width="0.6"/>
<line x1="45.0" y1="386.3" x2="45.0" y2="387.6" stroke="#000" stroke-width="0.6"/>
<line x1="51.9" y1="386.3" x2="51.9" y2="387.6" stroke="#000" stroke-width="0.6"/>
<line x1="57.3" y1="386.3" x2="57.3" y2="387.6" stroke="#000" stroke-width="0.6"/>
<line x1="61.7" y1="386.3" x2="61.7" y2="387.6" stroke="#000" stroke-width="0.6"/>
<line x1="65.4" y1="386.3" x2="65.4" y2="387.6" stroke="#000" stroke-width="0.6"/>
<line x1="68.6" y1="386.3" x2="68.6" y2="387.6" stroke="#000" stroke-width="0.6"/>
<line x1="71.5" y1="386.3" x2="71.5" y2="387.6" stroke="#000" stroke-width="0.6"/>
<line x1="74.0" y1="386.3" x2="74.0" y2="388.5" stroke="#000" stroke-width="0.6"/>
<line x1="90.7" y1="386.3" x2="90.7" y2="387.6" stroke="#000" stroke-width="0.6"/>
<line x1="100.5" y1="386.3" x2="100.5" y2="387.6" stroke="#000" stroke-width="0.6"/>
<line x1="107.4" y1="386.3" x2="107.4" y2="387.6" stroke="#000" stroke-width="0.6"/>
<line x1="112.8" y1="386.3" x2="112.8" y2="387.6" stroke="#000" stroke-width="0.6"/>
<line x1="117.2" y1="386.3" x2="117.2" y2="387.6" stroke="#000" stroke-width="0.6"/>
<line x1="120.9" y1="386.3" x2="120.9" y2="387.6" stroke="#000" stroke-width="0.6"/>
<line x1="124.1" y1="386.3" x2="124.1" y2="387.6" stroke="#000" stroke-width="0.6"/>
<line x1="127.0" y1="386.3" x2="127.0" y2="387.6" stroke="#000" stroke-width="0.6"/>
<line x1="129.5" y1="386.3" x2="129.5" y2="388.5" stroke="#000" stroke-width="0.6"/>
<line x1="146.2" y1="386.3" x2="146.2" y2="387.6" stroke="#000" stroke-width="0.6"/>
<line x1="156.0" y1="386.3" x2="156.0" y2="387.6" stroke="#000" stroke-width="0.6"/>
<line x1="162.9" y1="386.3" x2="162.9" y2="387.6" stroke="#000" stroke-width="0.6"/>
<line x1="168.3" y1="386.3" x2="168.3" y2="387.6" stroke="#000" stroke-width="0.6"/>
<line x1="172.7" y1="386.3" x2="172.7" y2="387.6" stroke="#000" stroke-width="0.6"/>
<line x1="176.4" y1="386.3" x2="176.4" y2="387.6" stroke="#000" stroke-width="0.6"/>
<line x1="179.6" y1="386.3" x2="179.6" y2="387.6" stroke="#000" stroke-width="0.6"/>
<line x1="182.5" y1="386.3" x2="182.5" y2="387.6" stroke="#000" stroke-width="0.6"/>
<line x1="185.0" y1="386.3" x2="185.0" y2="388.5" stroke="#000" stroke-width="0.6"/>
<line x1="201.7" y1="386.3" x2="201.7" y2="387.6" stroke="#000" stroke-width="0.6"/>
<line x1="211.5" y1="386.3" x2="211.5" y2="387.6" stroke="#000" stroke-width="0.6"/>
<line x1="218.4" y1="386.3" x2="218.4" y2="387.6" stroke="#000" stroke-width="0.6"/>
<line x1="223.8" y1="386.3" x2="223.8" y2="387.6" stroke="#000" stroke-width="0.6"/>
<line x1="228.2" y1="386.3" x2="228.2" y2="387.6" stroke="#000" stroke-width="0.6"/>
<path d="M18.5,384.1H19.0V383.3H19.5V384.7H20.0V382.6H20.5V386.3H21.0V385.3H21.5V385.8H22.0V385.6H22.5V385.3H23.0V384.8H23.5V383.8H24.0V386.3H24.5V386.1H25.0V385.3H25.5V383.6H26.0V382.8H26.5V386.3H27.0V384.5H27.5V384.9H28.0V384.6H28.5V384.7H29.0V386.1H29.5V384.8H30.0V386.3H30.5V382.8H31.0V382.4H31.5V379.5H32.0V385.6H32.5V384.6H33.0V379.8H33.5V377.9H34.0V377.8H34.5V381.3H35.0V375.4H35.5V373.2H36.0V366.9H36.5V370.4H37.0V367.6H37.5V372.5H38.0V361.1H38.5V356.1H39.0V359.5H39.5V365.6H40.0V368.6H40.5V374.3H41.0V346.3H41.5V349.6H42.0V358.9H42.5V349.0H43.0V353.2H43.5V345.0H44.0V347.3H44.5V342.6H45.0V331.8H45.5V310.3H46.0V341.5H46.5V322.6H47.0V294.2H47.5V307.7H48.0V309.1H48.5V296.0H49.0V312.0H49.5V293.8H50.0V303.6H50.5V292.7H51.0V291.3H51.5V271.4H52.0V281.1H52.5V287.9H53.0V281.5H53.5V268.2H54.0V274.0H54.5V256.0H55.0V266.1H55.5V270.8H56.0V271.5H56.5V273.9H57.0V263.6H57.5V277.3H58.0V264.8H58.5V255.3H59.0V285.2H59.5V255.3H60.0V255.3H60.5V265.4H61.0V260.9H61.5V256.1H62.0V271.1H62.5V259.9H63.0V267.5H63.5V269.1H64.0V298.8H64.5V284.9H65.0V274.8H65.5V264.1H66.0V279.9H66.5V284.1H67.0V294.3H67.5V305.6H68.0V316.0H68.5V331.4H69.0V331.2H69.5V324.2H70.0V332.6H70.5V332.5H71.0V351.9H71.5V349.5H72.0V339.6H72.5V340.7H73.0V346.2H73.5V343.6H74.0V362.6H74.5V364.0H75.0V370.7H75.5V362.4H76.0V353.1H76.5V361.8H77.0V380.0H77.5V373.3H78.0V370.7H78.5V376.7H79.0V364.6H79.5V367.3H80.0V370.1H80.5V380.0H81.0V373.9H81.5V375.6H82.0V379.7H82.5V376.0H83.0V375.0H83.5V380.0H84.0V376.5H84.5V384.0H85.0V378.4H85.5V382.2H86.0V378.9H86.5V375.3H87.0V379.8H87.5V378.4H88.0V381.0H88.5V378.1H89.0V381.7H89.5V386.3H90.0V380.7H90.5V381.1H91.0V386.3H91.5V381.5H92.0V380.2H92.5V381.1H93.0V386.3H93.5V379.5H94.0V382.5H94.5V383.1H95.0V386.3H95.5V381.8H96.0V386.2H96.5V382.6H97.0V385.4H97.5V384.4H98.0V380.4H98.5V381.1H99.0V382.5H99.5V383.8H100.0V383.0H100.5V385.2H101.0V386.3H101.5V381.4H102.0V385.0H102.5V384.3H103.0V386.3H103.5V383.8H104.0V383.4H104.5V384.9H105.0V385.0H105.5V381.9H106.0V380.6H106.5V384.7H107.0V385.4H107.5V386.3H108.0V385.1H108.5V379.7H109.0V385.9H109.5V385.9H110.0V382.0H110.5V385.0H111.0V385.2H111.5V383.3H112.0V385.2H112.5V383.8H113.0V386.3H113.5V382.6H114.0V383.4H114.5V383.7H115.0V386.1H115.5V386.3H116.0V383.3H116.5V384.3H117.0V383.7H117.5V382.8H118.0V386.0H118.5V386.3H119.0V383.4H119.5V385.5H120.0V385.8H120.5V386.1H121.0V384.6H121.5V381.4H122.0V384.0H122.5V385.0H123.0V386.3H123.5V384.9H124.0V384.7H124.5V386.3H125.0V386.3H125.5V385.2H126.0V386.3H126.5V386.3H127.0V382.6H127.5V386.3H128.0V383.5H128.5V383.2H129.0V386.3H129.5V384.5H130.0V386.3H130.5V383.1H131.0V386.3H131.5V385.7H132.0V385.8H132.5V385.7H133.0V386.3H133.5V386.3H134.0V385.1H134.5V386.3H135.0V383.1H135.5V384.8H136.0V384.7H136.5V382.7H137.0V382.8H137.5V385.5H138.0V386.3H138.5V383.6H139.0V385.5H139.5V386.2H140.0V384.1H140.5V386.3H141.0V384.7H141.5V382.9H142.0V384.9H142.5V386.3H143.0V386.3H143.5V383.7H144.0V382.7H144.5V385.1H145.0V384.7H145.5V386.3H146.0V386.3H146.5V386.0H147.0V385.4H147.5V384.5H148.0V382.9H148.5V385.1H149.0V383.1H149.5V386.3H150.0V386.3H150.5V383.9H151.0V385.2H151.5V386.3H152.0V383.1H152.5V383.2H153.0V386.3H153.5V384.7H154.0V385.6H154.5V385.6H155.0V386.3H155.5V386.3H156.0V386.3H156.5V384.1H157.0V384.9H157.5V384.6H158.0V386.3H158.5V383.6H159.0V383.8H159.5V386.3H160.0V383.1H160.5V386.3H161.0V386.3H161.5V384.7H162.0V383.6H162.5V384.0H163.0V382.2H163.5V384.3H164.0V385.1H164.5V385.9H165.0V386.3H165.5V385.5H166.0V386.3H166.5V386.3H167.0V386.3H167.5V386.3H168.0V382.6H168.5V386.3H169.0V386.3H169.5V384.6H170.0V386.2H170.5V386.3H171.0V382.6H171.5V386.2H172.0V386.2H172.5V386.3H173.0V386.3H173.5V383.2H174.0V386.3H174.5V385.9H175.0V386.3H175.5V386.3H176.0V384.5H176.5V386.0H177.0V384.9H177.5V386.3H178.0V384.7H178.5V384.1H179.0V384.3H179.5V385.8H180.0V386.3H180.5V384.4H181.0V384.6H181.5V384.3H182.0V385.6H182.5V386.3H183.0V386.3H183.5V384.2H184.0V386.0H184.5V385.9H185.0V383.0H185.5V384.8H186.0V384.3H186.5V385.2H187.0V386.3H187.5V383.9H188.0V386.3H188.5V385.5H189.0V386.2H189.5V385.5H190.0V384.5H190.5V384.1H191.0V386.3H191.5V386.0H192.0V384.4H192.5V384.9H193.0V385.6H193.5V386.3H194.0V385.0H194.5V386.3H195.0V386.3H195.5V383.6H196.0V384.4H196.5V384.7H197.0V384.0H197.5V385.6H198.0V385.9H198.5V386.3H199.0V386.3H199.5V384.1H200.0V385.9H200.5V386.3H201.0V386.3H201.5V385.1H202.0V384.5H202.5V382.9H203.0V384.3H203.5V386.0H204.0V384.6H204.5V384.4H205.0V384.5H205.5V385.3H206.0V384.7H206.5V384.6H207.0V386.3H207.5V386.1H208.0V386.3H208.5V386.3H209.0V386.1H209.5V385.8H210.0V383.7H210.5V385.2H211.0V386.0H211.5V385.7H212.0V386.3H212.5V385.8H213.0V383.0H213.5V384.9H214.0V385.0H214.5V386.3H215.0V386.2H215.5V383.5H216.0V386.1H216.5V386.3H217.0V384.7H217.5V386.2H218.0V386.3H218.5V386.3H219.0V385.1H219.5V384.1H220.0V386.3H220.5V386.3H221.0V386.3H221.5V386.3H222.0V384.9H222.5V386.3H223.0V386.3H223.5V386.3H224.0V383.8H224.5V385.0H225.0V384.3H225.5V383.0H226.0V384.2H226.5V384.7H227.0V386.3H227.5V385.2H228.0V386.3H228.5V385.1H229.0V384.3H229.5V386.3H230.0V384.0H230.5V385.4H231.0V384.4" fill="none" stroke="#000" stroke-width="0.9" stroke-dasharray="1,1"/>
<path d="M18.5,385.3H19.0V386.3H19.5V386.3H20.0V386.3H20.5V386.0H21.0V385.6H21.5V385.9H22.0V386.2H22.5V386.3H23.0V386.3H23.5V386.0H24.0V386.3H24.5V385.4H25.0V386.3H25.5V386.3H26.0V386.3H26.5V386.3H27.0V385.9H27.5V386.3H28.0V386.3H28.5V385.8H29.0V386.3H29.5V385.3H30.0V385.8H30.5V386.3H31.0V385.0H31.5V385.6H32.0V386.3H32.5V385.3H33.0V386.3H33.5V386.3H34.0V386.2H34.5V383.7H35.0V382.4H35.5V382.2H36.0V383.9H36.5V382.4H37.0V386.3H37.5V382.8H38.0V384.2H38.5V381.5H39.0V380.5H39.5V375.6H40.0V382.7H40.5V381.3H41.0V379.6H41.5V378.9H42.0V375.5H42.5V380.8H43.0V371.7H43.5V377.2H44.0V378.3H44.5V376.1H45.0V375.7H45.5V372.5H46.0V376.7H46.5V367.7H47.0V367.6H47.5V368.6H48.0V371.7H48.5V373.0H49.0V369.6H49.5V371.3H50.0V367.4H50.5V359.4H51.0V356.4H51.5V359.3H52.0V355.5H52.5V360.0H53.0V361.9H53.5V360.7H54.0V355.6H54.5V342.9H55.0V344.8H55.5V345.6H56.0V352.0H56.5V342.6H57.0V331.9H57.5V337.0H58.0V324.9H58.5V335.5H59.0V322.9H59.5V316.8H60.0V314.5H60.5V316.7H61.0V309.3H61.5V312.8H62.0V304.7H62.5V295.1H63.0V300.8H63.5V279.0H64.0V286.6H64.5V278.2H65.0V273.2H65.5V295.6H66.0V262.3H66.5V273.5H67.0V289.9H67.5V265.8H68.0V255.3H68.5V295.3H69.0V279.2H69.5V276.4H70.0V291.9H70.5V268.3H71.0V278.0H71.5V287.3H72.0V276.9H72.5V274.4H73.0V255.3H73.5V280.9H74.0V300.1H74.5V255.8H75.0V283.2H75.5V269.3H76.0V296.5H76.5V286.3H77.0V258.3H77.5V275.8H78.0V291.5H78.5V286.5H79.0V266.3H79.5V276.9H80.0V292.2H80.5V288.8H81.0V289.4H81.5V259.3H82.0V286.6H82.5V281.6H83.0V288.1H83.5V275.0H84.0V292.0H84.5V291.8H85.0V287.4H85.5V303.4H86.0V303.0H86.5V293.6H87.0V304.8H87.5V318.6H88.0V309.5H88.5V326.0H89.0V325.3H89.5V328.0H90.0V325.1H90.5V331.7H91.0V333.7H91.5V335.7H92.0V343.3H92.5V344.5H93.0V347.3H93.5V338.8H94.0V342.0H94.5V347.9H95.0V360.0H95.5V357.9H96.0V356.0H96.5V363.4H97.0V366.8H97.5V360.1H98.0V362.2H98.5V360.7H99.0V360.0H99.5V362.1H100.0V362.7H100.5V368.4H101.0V366.2H101.5V359.7H102.0V359.3H102.5V374.4H103.0V366.8H103.5V363.6H104.0V365.6H104.5V366.3H105.0V370.3H105.5V367.0H106.0V367.0H106.5V372.0H107.0V371.9H107.5V374.2H108.0V370.6H108.5V368.1H109.0V377.2H109.5V368.4H110.0V376.4H110.5V368.5H111.0V368.6H111.5V381.8H112.0V372.0H112.5V372.1H113.0V369.0H113.5V370.1H114.0V370.6H114.5V371.9H115.0V378.4H115.5V376.8H116.0V375.6H116.5V373.6H117.0V377.1H117.5V370.6H118.0V371.6H118.5V377.7H119.0V370.9H119.5V370.7H120.0V369.7H120.5V374.4H121.0V375.4H121.5V379.9H122.0V380.1H122.5V372.6H123.0V375.0H123.5V382.2H124.0V375.5H124.5V380.0H125.0V379.8H125.5V377.2H126.0V376.5H126.5V371.8H127.0V374.6H127.5V377.8H128.0V374.6H128.5V378.1H129.0V380.3H129.5V376.8H130.0V376.6H130.5V373.5H131.0V376.8H131.5V376.3H132.0V377.9H132.5V379.1H133.0V383.9H133.5V376.8H134.0V381.3H134.5V380.4H135.0V376.9H135.5V376.6H136.0V378.5H136.5V375.0H137.0V375.5H137.5V374.3H138.0V375.4H138.5V378.1H139.0V381.2H139.5V375.7H140.0V382.2H140.5V379.4H141.0V375.9H141.5V379.7H142.0V384.2H142.5V379.8H143.0V380.0H143.5V375.2H144.0V382.0H144.5V376.7H145.0V381.0H145.5V373.7H146.0V374.8H146.5V379.0H147.0V381.5H147.5V381.8H148.0V381.5H148.5V379.8H149.0V377.5H149.5V377.9H150.0V375.7H150.5V381.3H151.0V381.6H151.5V379.3H152.0V377.9H152.5V380.1H153.0V380.3H153.5V377.7H154.0V379.8H154.5V380.9H155.0V381.0H155.5V380.2H156.0V381.6H156.5V378.8H157.0V379.5H157.5V378.7H158.0V382.8H158.5V379.6H159.0V381.3H159.5V383.3H160.0V383.9H160.5V376.9H161.0V379.9H161.5V383.0H162.0V384.6H162.5V381.8H163.0V380.8H163.5V381.5H164.0V382.8H164.5V382.5H165.0V377.3H165.5V380.4H166.0V381.5H166.5V384.3H167.0V382.7H167.5V378.9H168.0V379.7H168.5V380.5H169.0V380.7H169.5V381.6H170.0V379.3H170.5V381.1H171.0V381.9H171.5V381.7H172.0V382.5H172.5V381.9H173.0V380.6H173.5V381.7H174.0V383.2H174.5V376.6H175.0V383.6H175.5V380.9H176.0V382.1H176.5V382.0H177.0V380.5H177.5V384.7H178.0V383.8H178.5V381.5H179.0V385.8H179.5V383.5H180.0V383.0H180.5V379.0H181.0V384.2H181.5V380.0H182.0V386.3H182.5V382.9H183.0V383.5H183.5V381.4H184.0V385.1H184.5V380.5H185.0V382.9H185.5V383.2H186.0V381.5H186.5V384.6H187.0V382.5H187.5V384.9H188.0V381.9H188.5V384.3H189.0V382.6H189.5V383.4H190.0V384.9H190.5V385.7H191.0V384.8H191.5V385.2H192.0V385.1H192.5V386.3H193.0V381.4H193.5V382.2H194.0V382.3H194.5V382.9H195.0V383.4H195.5V386.3H196.0V381.6H196.5V382.4H197.0V385.3H197.5V386.0H198.0V382.5H198.5V383.3H199.0V382.9H199.5V382.3H200.0V382.5H200.5V381.9H201.0V384.0H201.5V379.5H202.0V385.9H202.5V384.5H203.0V384.7H203.5V382.2H204.0V384.1H204.5V384.5H205.0V385.6H205.5V384.2H206.0V381.5H206.5V383.0H207.0V386.2H207.5V383.2H208.0V383.8H208.5V386.3H209.0V382.4H209.5V384.8H210.0V382.4H210.5V386.3H211.0V384.9H211.5V385.5H212.0V385.1H212.5V383.4H213.0V384.7H213.5V386.1H214.0V383.4H214.5V386.3H215.0V383.9H215.5V385.8H216.0V386.2H216.5V383.4H217.0V386.3H217.5V386.1H218.0V384.0H218.5V384.0H219.0V384.5H219.5V385.8H220.0V383.9H220.5V384.8H221.0V383.5H221.5V386.3H222.0V384.9H222.5V386.3H223.0V384.1H223.5V383.1H224.0V385.4H224.5V384.2H225.0V384.9H225.5V384.7H226.0V385.4H226.5V386.3H227.0V383.9H227.5V384.3H228.0V383.1H228.5V385.0H229.0V385.1H229.5V386.3H230.0V385.0H230.5V385.5H231.0V384.4" fill="none" stroke="#444" stroke-width="0.8"/>
<path d="M18.5,385.4H19.0V377.9H19.5V371.7H20.0V380.1H20.5V384.1H21.0V385.2H21.5V382.5H22.0V383.8H22.5V384.0H23.0V386.3H23.5V384.9H24.0V385.0H24.5V385.0H25.0V383.5H25.5V385.2H26.0V386.1H26.5V385.4H27.0V380.3H27.5V381.3H28.0V379.9H28.5V378.0H29.0V377.4H29.5V379.7H30.0V378.2H30.5V375.3H31.0V376.6H31.5V372.6H32.0V370.3H32.5V369.8H33.0V367.5H33.5V370.9H34.0V369.2H34.5V369.4H35.0V365.5H35.5V371.1H36.0V366.8H36.5V365.9H37.0V361.8H37.5V360.6H38.0V361.2H38.5V355.0H39.0V353.3H39.5V345.9H40.0V350.1H40.5V348.8H41.0V345.5H41.5V342.1H42.0V333.5H42.5V331.0H43.0V330.4H43.5V320.9H44.0V312.1H44.5V304.7H45.0V306.2H45.5V294.6H46.0V298.9H46.5V289.4H47.0V290.1H47.5V288.3H48.0V292.1H48.5V279.5H49.0V276.1H49.5V267.3H50.0V264.1H50.5V263.0H51.0V277.3H51.5V269.9H52.0V265.4H52.5V257.8H53.0V255.3H53.5V274.5H54.0V269.9H54.5V267.2H55.0V264.1H55.5V285.0H56.0V280.2H56.5V284.2H57.0V284.9H57.5V288.6H58.0V293.1H58.5V287.3H59.0V310.3H59.5V302.2H60.0V306.1H60.5V300.8H61.0V318.2H61.5V325.8H62.0V327.7H62.5V336.6H63.0V329.8H63.5V335.1H64.0V333.9H64.5V350.9H65.0V352.2H65.5V348.9H66.0V347.6H66.5V352.6H67.0V351.8H67.5V361.5H68.0V358.1H68.5V356.3H69.0V359.1H69.5V367.0H70.0V367.5H70.5V372.1H71.0V369.2H71.5V367.7H72.0V370.2H72.5V372.9H73.0V372.2H73.5V370.9H74.0V377.2H74.5V374.2H75.0V374.9H75.5V379.1H76.0V379.0H76.5V379.7H77.0V377.1H77.5V379.7H78.0V379.4H78.5V375.9H79.0V379.9H79.5V379.2H80.0V378.7H80.5V384.8H81.0V378.5H81.5V379.0H82.0V380.9H82.5V380.5H83.0V380.4H83.5V380.5H84.0V383.8H84.5V379.1H85.0V382.6H85.5V381.5H86.0V380.8H86.5V383.2H87.0V381.6H87.5V381.6H88.0V381.9H88.5V382.8H89.0V385.3H89.5V381.5H90.0V383.8H90.5V383.0H91.0V384.1H91.5V382.9H92.0V381.6H92.5V384.3H93.0V383.8H93.5V382.4H94.0V384.3H94.5V378.9H95.0V383.5H95.5V383.7H96.0V383.2H96.5V385.8H97.0V383.0H97.5V381.6H98.0V383.3H98.5V382.5H99.0V383.6H99.5V383.7H100.0V379.6H100.5V384.6H101.0V382.6H101.5V382.8H102.0V383.4H102.5V384.8H103.0V384.8H103.5V384.4H104.0V382.5H104.5V383.4H105.0V382.8H105.5V384.5H106.0V384.6H106.5V383.4H107.0V383.9H107.5V383.5H108.0V385.2H108.5V383.4H109.0V385.2H109.5V383.0H110.0V382.4H110.5V383.3H111.0V385.3H111.5V385.8H112.0V382.9H112.5V382.6H113.0V385.2H113.5V382.1H114.0V386.3H114.5V385.7H115.0V385.0H115.5V383.8H116.0V385.0H116.5V386.3H117.0V385.8H117.5V386.3H118.0V383.0H118.5V384.1H119.0V383.6H119.5V383.6H120.0V386.1H120.5V386.3H121.0V383.3H121.5V384.3H122.0V385.2H122.5V386.0H123.0V383.9H123.5V384.8H124.0V385.6H124.5V384.9H125.0V386.3H125.5V385.0H126.0V382.8H126.5V385.2H127.0V383.4H127.5V382.6H128.0V382.8H128.5V383.7H129.0V383.5H129.5V385.5H130.0V386.3H130.5V384.6H131.0V386.3H131.5V384.7H132.0V385.4H132.5V384.8H133.0V384.4H133.5V384.5H134.0V384.2H134.5V384.6H135.0V384.4H135.5V384.5H136.0V384.1H136.5V384.7H137.0V385.8H137.5V385.7H138.0V384.1H138.5V383.6H139.0V385.6H139.5V383.2H140.0V385.0H140.5V384.7H141.0V382.8H141.5V386.3H142.0V384.7H142.5V384.0H143.0V384.5H143.5V384.4H144.0V386.3H144.5V384.2H145.0V385.0H145.5V383.9H146.0V385.7H146.5V384.9H147.0V382.6H147.5V383.7H148.0V385.3H148.5V384.7H149.0V385.5H149.5V386.3H150.0V384.2H150.5V386.2H151.0V384.9H151.5V384.1H152.0V384.8H152.5V384.0H153.0V382.4H153.5V385.1H154.0V384.5H154.5V383.6H155.0V385.1H155.5V386.0H156.0V386.3H156.5V386.0H157.0V384.0H157.5V384.1H158.0V383.4H158.5V385.2H159.0V386.0H159.5V385.5H160.0V385.3H160.5V384.9H161.0V384.3H161.5V385.5H162.0V385.6H162.5V383.9H163.0V384.8H163.5V384.0H164.0V385.8H164.5V385.0H165.0V384.5H165.5V382.9H166.0V384.4H166.5V386.3H167.0V384.1H167.5V386.3H168.0V385.5H168.5V385.8H169.0V385.1H169.5V384.8H170.0V384.1H170.5V384.4H171.0V382.7H171.5V385.2H172.0V386.3H172.5V385.3H173.0V386.3H173.5V384.9H174.0V386.3H174.5V386.1H175.0V384.2H175.5V385.9H176.0V383.4H176.5V384.2H177.0V385.2H177.5V386.3H178.0V385.9H178.5V386.3H179.0V384.5H179.5V385.7H180.0V383.6H180.5V386.3H181.0V386.0H181.5V384.0H182.0V383.8H182.5V385.1H183.0V386.3H183.5V384.3H184.0V384.3H184.5V386.3H185.0V385.8H185.5V382.7H186.0V384.8H186.5V383.5H187.0V385.1H187.5V384.8H188.0V385.5H188.5V385.8H189.0V385.5H189.5V385.9H190.0V385.2H190.5V384.5H191.0V386.1H191.5V383.0H192.0V385.1H192.5V385.2H193.0V386.1H193.5V384.9H194.0V385.3H194.5V384.0H195.0V384.0H195.5V385.5H196.0V385.7H196.5V384.4H197.0V385.3H197.5V385.8H198.0V383.7H198.5V385.1H199.0V386.3H199.5V383.9H200.0V385.6H200.5V386.2H201.0V386.3H201.5V386.3H202.0V385.4H202.5V384.7H203.0V386.3H203.5V385.2H204.0V386.3H204.5V385.3H205.0V385.6H205.5V385.7H206.0V386.0H206.5V386.3H207.0V386.3H207.5V386.3H208.0V386.3H208.5V386.3H209.0V384.0H209.5V386.3H210.0V384.8H210.5V386.3H211.0V385.1H211.5V384.5H212.0V385.9H212.5V385.8H213.0V384.6H213.5V385.3H214.0V386.3H214.5V384.5H215.0V384.9H215.5V386.1H216.0V384.4H216.5V385.6H217.0V386.2H217.5V383.8H218.0V385.0H218.5V386.3H219.0V385.8H219.5V386.3H220.0V386.3H220.5V385.8H221.0V385.0H221.5V385.0H222.0V386.1H222.5V384.1H223.0V385.6H223.5V384.0H224.0V385.7H224.5V385.7H225.0V386.3H225.5V384.9H226.0V384.7H226.5V385.0H227.0V384.5H227.5V384.2H228.0V386.3H228.5V385.1H229.0V386.3H229.5V384.1H230.0V386.3H230.5V385.1H231.0V384.6" fill="none" stroke="#000" stroke-width="1.5"/>
<defs>
<filter id="b1" x="-50%" y="-50%" width="200%" height="200%"><feGaussianBlur stdDeviation="1.3"/></filter>
<filter id="b2" x="-50%" y="-50%" width="200%" height="200%"><feGaussianBlur stdDeviation="0.8"/></filter>
<filter id="b3" x="-50%" y="-50%" width="200%" height="200%"><feGaussianBlur stdDeviation="2.2"/></filter>
<filter id="mL" x="0" y="0" width="100%" height="100%"><feTurbulence type="fractalNoise" baseFrequency="0.17" numOctaves="2" seed="4"/><feColorMatrix type="matrix" values="0 0 0 0 0.72  0 0 0 0 0.56  0 0 0 0 0.84  2.2 0 0 0 -0.95"/><feGaussianBlur stdDeviation="1"/></filter>
<filter id="mD" x="0" y="0" width="100%" height="100%"><feTurbulence type="fractalNoise" baseFrequency="0.17" numOctaves="2" seed="9"/><feColorMatrix type="matrix" values="0 0 0 0 0.32  0 0 0 0 0.08  0 0 0 0 0.42  0 2.2 0 0 -0.95"/><feGaussianBlur stdDeviation="1"/></filter>
<clipPath id="cBi"><rect x="2.4" y="183.3" width="48.2" height="39.5"/></clipPath>
<clipPath id="cBii"><rect x="56" y="183.5" width="48.8" height="39.3"/></clipPath>
<clipPath id="cBiii"><rect x="109.6" y="183.5" width="48.8" height="39.9"/></clipPath>
<clipPath id="cDi"><rect x="248" y="185.1" width="48.8" height="39.7"/></clipPath>
<clipPath id="cDii"><rect x="302.6" y="186.2" width="48.2" height="38"/></clipPath>
<clipPath id="cDiii"><rect x="356" y="186.2" width="47.6" height="38.6"/></clipPath>
</defs>
<g clip-path="url(#cBi)"><rect x="2.4" y="183.3" width="48.2" height="39.5" fill="#dde2e9"/>
<ellipse cx="41" cy="203" rx="5" ry="3.5" fill="#e8e6ee" filter="url(#b3)"/>
<g filter="url(#b1)">
<ellipse cx="21.5" cy="202.5" rx="14" ry="13.8" fill="#8a5060"/>
<ellipse cx="23" cy="200.8" rx="12.8" ry="12.6" fill="#633478"/>
<ellipse cx="19" cy="198" rx="5" ry="4" fill="#5a2c70"/>
<ellipse cx="27" cy="196" rx="4" ry="5" fill="#6a3a80"/>
<ellipse cx="22" cy="204" rx="4" ry="4" fill="#7a4a88"/>
<ellipse cx="29" cy="206" rx="4" ry="4" fill="#5a2a6c"/>
<ellipse cx="16" cy="206" rx="3" ry="4" fill="#6a3a7c"/>
<ellipse cx="11" cy="208" rx="2.5" ry="4" fill="#9a6458"/>
<ellipse cx="18" cy="214.5" rx="5" ry="2" fill="#8a5058"/>
</g><clipPath id="mBi"><ellipse cx="22.5" cy="201" rx="12" ry="12"/></clipPath><g clip-path="url(#mBi)" opacity="0.55"><rect x="8.5" y="187" width="28" height="28" filter="url(#mL)"/><rect x="8.5" y="187" width="28" height="28" filter="url(#mD)"/></g></g>
<g clip-path="url(#cBii)"><rect x="56" y="183.5" width="48.8" height="39.3" fill="#efe3da"/>
<g filter="url(#b1)">
<ellipse cx="79.5" cy="203.5" rx="17" ry="13.5" fill="#c49ad0"/>
<ellipse cx="72" cy="204" rx="8" ry="9" fill="#8c4fb6"/>
<ellipse cx="84" cy="198" rx="9" ry="7" fill="#8a4cb2"/>
<ellipse cx="89" cy="207" rx="6" ry="6" fill="#9558bc"/>
<ellipse cx="83" cy="213.5" rx="6" ry="4" fill="#7a3aa6"/>
<ellipse cx="78" cy="199" rx="5" ry="4" fill="#9c62c0"/>
<ellipse cx="80" cy="206" rx="2" ry="2" fill="#d2b4d8"/>
</g><clipPath id="mBii"><ellipse cx="79.5" cy="203.5" rx="15.5" ry="12"/></clipPath><g clip-path="url(#mBii)" opacity="0.6"><rect x="62.0" y="189.5" width="35.0" height="28" filter="url(#mL)"/><rect x="62.0" y="189.5" width="35.0" height="28" filter="url(#mD)"/></g></g>
<g clip-path="url(#cBiii)"><rect x="109.6" y="183.5" width="48.8" height="39.9" fill="#e5d9cf"/>
<g filter="url(#b1)">
<ellipse cx="133.5" cy="204.5" rx="17.5" ry="14.5" fill="#d8b8d4"/>
<ellipse cx="133.5" cy="205" rx="10" ry="7" fill="#8a44a4"/>
<ellipse cx="124" cy="202" rx="6.5" ry="8" fill="#7e3498"/>
<ellipse cx="131" cy="196.5" rx="5" ry="5" fill="#84389c"/>
<ellipse cx="140" cy="197" rx="6" ry="5.5" fill="#762c92"/>
<ellipse cx="145.5" cy="204" rx="4.5" ry="6" fill="#8a40a2"/>
<ellipse cx="127" cy="212.5" rx="6" ry="4.5" fill="#762c92"/>
<ellipse cx="137" cy="213.5" rx="5" ry="4" fill="#84389c"/>
<ellipse cx="144" cy="211" rx="4" ry="4" fill="#7a3096"/>
<ellipse cx="121" cy="200" rx="2" ry="2.5" fill="#a060b8"/>
<ellipse cx="134" cy="196" rx="1.8" ry="1.8" fill="#a868be"/>
<ellipse cx="142" cy="200" rx="1.8" ry="1.8" fill="#5a1a78"/>
<ellipse cx="130" cy="214" rx="2" ry="1.5" fill="#a060b8"/>
<ellipse cx="125" cy="208" rx="2" ry="1.5" fill="#5a1a78"/>
</g>
<g filter="url(#b2)">
<path d="M125,207 Q129,205 133,206.3 Q137,207.2 141,205.2 L141.5,207.8 Q137,209.5 133,208.6 Q129,208 125,209.2 Z" fill="#efe2ee"/>
</g><clipPath id="mBiii"><ellipse cx="133.5" cy="204.5" rx="15.5" ry="13"/></clipPath><g clip-path="url(#mBiii)" opacity="0.6"><rect x="116.0" y="189.5" width="35.0" height="30" filter="url(#mL)"/><rect x="116.0" y="189.5" width="35.0" height="30" filter="url(#mD)"/></g></g>
<g clip-path="url(#cDi)"><rect x="248" y="185.1" width="48.8" height="39.7" fill="#dcdcec"/>
<g filter="url(#b1)">
<ellipse cx="271" cy="205" rx="14.5" ry="13.5" transform="rotate(35 271 205)" fill="#a07ca8"/>
<ellipse cx="271" cy="205" rx="13.3" ry="12.4" transform="rotate(35 271 205)" fill="#5e2a6c"/>
<ellipse cx="265" cy="199" rx="5" ry="4" fill="#552466"/>
<ellipse cx="274" cy="197" rx="4" ry="3" fill="#6e3a80"/>
<ellipse cx="267" cy="207" rx="4.5" ry="4" fill="#7e4e8c"/>
<ellipse cx="278" cy="209" rx="4" ry="5" fill="#5a1e60"/>
<ellipse cx="273" cy="214" rx="5" ry="3" fill="#6a2a5e"/>
<ellipse cx="262" cy="206" rx="2.5" ry="4" fill="#6a3a80"/>
</g><clipPath id="mDi"><ellipse cx="271" cy="205.5" rx="12.5" ry="12" transform="rotate(30 271 205.5)"/></clipPath><g clip-path="url(#mDi)" opacity="0.35"><rect x="256.5" y="191.5" width="29.0" height="28" filter="url(#mL)"/><rect x="256.5" y="191.5" width="29.0" height="28" filter="url(#mD)"/></g></g>
<g clip-path="url(#cDii)"><rect x="302.6" y="186.2" width="48.2" height="38" fill="#ecdbcf"/>
<g filter="url(#b1)">
<ellipse cx="325.5" cy="206" rx="16.5" ry="12" transform="rotate(-65 325.5 206)" fill="#c898bc"/>
<ellipse cx="325.5" cy="206" rx="15.2" ry="10.8" transform="rotate(-65 325.5 206)" fill="#9a4a9c"/>
<ellipse cx="330" cy="197" rx="5" ry="4" fill="#8a3a8e"/>
<ellipse cx="322" cy="202" rx="4" ry="4" fill="#a45aa6"/>
<ellipse cx="319" cy="214" rx="5" ry="4.5" fill="#8a3a8e"/>
<ellipse cx="331" cy="206" rx="3" ry="3.5" fill="#8e3e92"/>
<ellipse cx="327" cy="211" rx="2.5" ry="2" fill="#c8a0c4"/>
</g><clipPath id="mDii"><ellipse cx="325.5" cy="206" rx="14.5" ry="10.5" transform="rotate(-65 325.5 206)"/></clipPath><g clip-path="url(#mDii)" opacity="0.6"><rect x="309.0" y="193.5" width="33.0" height="25.0" filter="url(#mL)"/><rect x="309.0" y="193.5" width="33.0" height="25.0" filter="url(#mD)"/></g></g>
<g clip-path="url(#cDiii)"><rect x="356" y="186.2" width="47.6" height="38.6" fill="#ede2cc"/>
<ellipse cx="381" cy="207" rx="17.5" ry="14.5" fill="#e4c6d6" filter="url(#b3)"/>
<g filter="url(#b1)">
<ellipse cx="381" cy="207" rx="14" ry="11" fill="#b898c8"/>
<ellipse cx="374" cy="203" rx="8" ry="6.5" transform="rotate(-15 374 203)" fill="#7e5ea2"/>
<ellipse cx="377" cy="213.5" rx="8.5" ry="5.5" fill="#8868aa"/>
<ellipse cx="390" cy="208" rx="6.3" ry="9.5" fill="#7c5ca0"/>
<ellipse cx="382.6" cy="204" rx="1.3" ry="5" fill="#c8a8d0"/>
<ellipse cx="379" cy="193.5" rx="3" ry="2" fill="#d8b0cc"/>
</g><clipPath id="mDiii"><ellipse cx="380.5" cy="207" rx="15" ry="11.5"/></clipPath><g clip-path="url(#mDiii)" opacity="0.6"><rect x="363.5" y="193.5" width="34" height="27.0" filter="url(#mL)"/><rect x="363.5" y="193.5" width="34" height="27.0" filter="url(#mD)"/></g></g>
<text x="24.8" y="230.3" text-anchor="middle" style="font-size:6.3px;font-weight:bold" fill="#111">i</text>
<text x="79.5" y="230.3" text-anchor="middle" style="font-size:6.3px;font-weight:bold" fill="#111">ii</text>
<text x="133.4" y="230.3" text-anchor="middle" style="font-size:6.3px;font-weight:bold" fill="#111">iii</text>
<text x="272.3" y="232.3" text-anchor="middle" style="font-size:6.3px;font-weight:bold" fill="#111">i</text>
<text x="327" y="232.3" text-anchor="middle" style="font-size:6.3px;font-weight:bold" fill="#111">ii</text>
<text x="381.3" y="232.3" text-anchor="middle" style="font-size:6.3px;font-weight:bold" fill="#111">iii</text>
<text transform="translate(13.1,144.0) rotate(-90)" text-anchor="middle" style="font-size:5.0px" fill="#000">0</text>
<text transform="translate(13.1,125.4) rotate(-90)" text-anchor="middle" style="font-size:5.0px" fill="#000">20</text>
<text transform="translate(13.1,106.8) rotate(-90)" text-anchor="middle" style="font-size:5.0px" fill="#000">40</text>
<text transform="translate(13.1,88.19999999999999) rotate(-90)" text-anchor="middle" style="font-size:5.0px" fill="#000">60</text>
<text transform="translate(13.1,69.6) rotate(-90)" text-anchor="middle" style="font-size:5.0px" fill="#000">80</text>
<text transform="translate(13.1,51.0) rotate(-90)" text-anchor="middle" style="font-size:5.0px" fill="#000">100</text>
<text transform="translate(13.1,32.39999999999999) rotate(-90)" text-anchor="middle" style="font-size:5.0px" fill="#000">120</text>
<text transform="translate(7.4,83.5) rotate(-90)" text-anchor="middle" style="font-size:5.4px" fill="#000">Counts</text>
<text x="15.96" y="152.6" style="font-size:6.0px" fill="#000">10<tspan dy="-2.7" style="font-size:4.5px">0</tspan></text>
<text x="92.96" y="152.6" style="font-size:6.0px" fill="#000">10<tspan dy="-2.7" style="font-size:4.5px">1</tspan></text>
<text x="169.96" y="152.6" style="font-size:6.0px" fill="#000">10<tspan dy="-2.7" style="font-size:4.5px">2</tspan></text>
<text x="148.3" y="158.2" style="font-size:5.6px" textLength="51.6" lengthAdjust="spacingAndGlyphs" fill="#222">FL3-Height (PerCP)</text>
<text transform="translate(258.3,143.3) rotate(-90)" text-anchor="middle" style="font-size:4.4px" fill="#000">0</text>
<text transform="translate(258.3,103.0) rotate(-90)" text-anchor="middle" style="font-size:4.4px" fill="#000">40</text>
<text transform="translate(258.3,62.7) rotate(-90)" text-anchor="middle" style="font-size:4.4px" fill="#000">80</text>
<text transform="translate(258.3,22.400000000000006) rotate(-90)" text-anchor="middle" style="font-size:4.4px" fill="#000">120</text>
<text transform="translate(251.8,43.5) rotate(-90)" text-anchor="middle" style="font-size:4.3px" fill="#000">Counts</text>
<text x="261.82" y="150.2" style="font-size:5.0px" fill="#000">10<tspan dy="-2.2" style="font-size:3.8px">0</tspan></text>
<text x="341.82" y="150.2" style="font-size:5.0px" fill="#000">10<tspan dy="-2.2" style="font-size:3.8px">1</tspan></text>
<text x="421.82" y="150.2" style="font-size:5.0px" fill="#000">10<tspan dy="-2.2" style="font-size:3.8px">2</tspan></text>
<text x="400.2" y="154.4" style="font-size:4.9px" textLength="49" lengthAdjust="spacingAndGlyphs" fill="#222">FL3-Height (PerCP)</text>
<text transform="translate(12.8,386.3) rotate(-90)" text-anchor="middle" style="font-size:5.0px" fill="#000">0</text>
<text transform="translate(12.8,364.18) rotate(-90)" text-anchor="middle" style="font-size:5.0px" fill="#000">20</text>
<text transform="translate(12.8,342.06) rotate(-90)" text-anchor="middle" style="font-size:5.0px" fill="#000">40</text>
<text transform="translate(12.8,319.94) rotate(-90)" text-anchor="middle" style="font-size:5.0px" fill="#000">60</text>
<text transform="translate(12.8,297.82) rotate(-90)" text-anchor="middle" style="font-size:5.0px" fill="#000">80</text>
<text transform="translate(12.8,275.7) rotate(-90)" text-anchor="middle" style="font-size:5.0px" fill="#000">100</text>
<text transform="translate(12.8,256.2) rotate(-90)" text-anchor="middle" style="font-size:5.0px" fill="#000">1</text>
<text transform="translate(8.3,320.2) rotate(-90)" text-anchor="middle" style="font-size:4.8px" fill="#000">Count</text>
<text x="15.58" y="391.8" style="font-size:5.8px" fill="#000">10<tspan dy="-2.6" style="font-size:4.3px">0</tspan></text>
<text x="71.08" y="391.8" style="font-size:5.8px" fill="#000">10<tspan dy="-2.6" style="font-size:4.3px">1</tspan></text>
<text x="126.58" y="391.8" style="font-size:5.8px" fill="#000">10<tspan dy="-2.6" style="font-size:4.3px">2</tspan></text>
<text x="182.08" y="391.8" style="font-size:5.8px" fill="#000">10<tspan dy="-2.6" style="font-size:4.3px">3</tspan></text>
<text x="108.7" y="396.6" style="font-size:5.2px" textLength="43" lengthAdjust="spacingAndGlyphs" fill="#222">FL1-Height (FITC)</text>
<line x1="130.8" y1="61.5" x2="150.6" y2="61.5" stroke="#000" stroke-width="1.6" stroke-dasharray="1.6,1.75"/>
<text class="lg" x="156.7" y="62.6" fill="#111">untreated</text>
<line x1="130.8" y1="74.4" x2="150.6" y2="74.4" stroke="#000" stroke-width="1.9"/>
<text class="lg" x="156.7" y="75.5" fill="#111">aPL-IgG (C5aR<tspan class="sp" dy="-3">-/-</tspan><tspan dy="3">)</tspan></text>
<line x1="130.8" y1="86" x2="150.6" y2="86" stroke="#555" stroke-width="1.1"/>
<text class="lg" x="156.7" y="87.1" fill="#111">aPL-IgG (C5aR<tspan class="sp" dy="-3">+/+</tspan><tspan dy="3">)</tspan></text>
<line x1="374.4" y1="61.5" x2="394.2" y2="61.5" stroke="#000" stroke-width="1.6" stroke-dasharray="1.6,1.75"/>
<text class="lg" x="400.2" y="62.6" fill="#111">untreated</text>
<line x1="374.4" y1="74.3" x2="394.2" y2="74.3" stroke="#000" stroke-width="1.9"/>
<text class="lg" x="400.2" y="75.39999999999999" fill="#111">aPL-IgG (TF <tspan class="sp" dy="-3">floxed/floxed</tspan><tspan dy="3"> )</tspan></text>
<line x1="374.4" y1="86" x2="394.2" y2="86" stroke="#555" stroke-width="1.1"/>
<text class="lg" x="400.2" y="87.1" fill="#111">aPL-IgG (TF<tspan class="sp" dy="-3">floxed/floxed</tspan><tspan dy="3">/LysMCre)</tspan></text>
<line x1="109.4" y1="288.4" x2="129" y2="288.4" stroke="#000" stroke-width="1.9"/>
<text class="lg" x="135.2" y="289.79999999999995" fill="#111">untreated</text>
<line x1="109.4" y1="301.3" x2="129" y2="301.3" stroke="#111" stroke-width="1.1"/>
<text class="lg" x="135.2" y="302.7" fill="#111">aPL-IgG (TF <tspan class="sp" dy="-3">floxed/floxed</tspan><tspan dy="3"> )</tspan></text>
<line x1="109.4" y1="313.2" x2="129" y2="313.2" stroke="#000" stroke-width="1.6" stroke-dasharray="1.6,1.75"/>
<text class="lg" x="135.2" y="314.59999999999997" fill="#111">aPL-IgG (TF<tspan class="sp" dy="-3">floxed/floxed</tspan><tspan dy="3">/LysMCre)</tspan></text>
</svg></body></html>
